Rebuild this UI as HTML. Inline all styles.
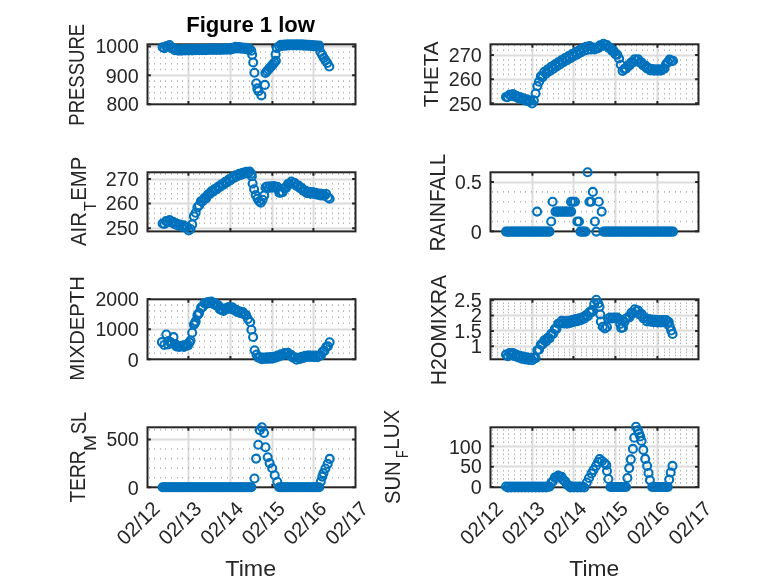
<!DOCTYPE html>
<html><head><meta charset="utf-8"><style>
html,body{margin:0;padding:0;background:#fff;overflow:hidden}
svg{display:block}
text{font-family:"Liberation Sans", sans-serif;fill:#262626}
</style></head><body>
<svg width="778" height="583" viewBox="0 0 778 583">
<rect width="778" height="583" fill="#fff"/>
<line x1="147.5" y1="75.50" x2="355.5" y2="75.50" stroke="#dcdcdc" stroke-width="2"/>
<line x1="147.5" y1="46.50" x2="355.5" y2="46.50" stroke="#dcdcdc" stroke-width="2"/>
<line x1="188.50" y1="44.3" x2="188.50" y2="104.3" stroke="#dcdcdc" stroke-width="2"/>
<line x1="230.50" y1="44.3" x2="230.50" y2="104.3" stroke="#dcdcdc" stroke-width="2"/>
<line x1="272.50" y1="44.3" x2="272.50" y2="104.3" stroke="#dcdcdc" stroke-width="2"/>
<line x1="313.50" y1="44.3" x2="313.50" y2="104.3" stroke="#dcdcdc" stroke-width="2"/>
<path d="M149 97.6h1v1.6h-1zM154 97.6h1v1.6h-1zM160 97.6h1v1.6h-1zM165 97.6h1v1.6h-1zM171 97.6h1v1.6h-1zM177 97.6h1v1.6h-1zM182 97.6h1v1.6h-1zM188 97.6h1v1.6h-1zM193 97.6h1v1.6h-1zM199 97.6h1v1.6h-1zM204 97.6h1v1.6h-1zM210 97.6h1v1.6h-1zM215 97.6h1v1.6h-1zM221 97.6h1v1.6h-1zM227 97.6h1v1.6h-1zM232 97.6h1v1.6h-1zM238 97.6h1v1.6h-1zM243 97.6h1v1.6h-1zM249 97.6h1v1.6h-1zM254 97.6h1v1.6h-1zM260 97.6h1v1.6h-1zM265 97.6h1v1.6h-1zM271 97.6h1v1.6h-1zM276 97.6h1v1.6h-1zM282 97.6h1v1.6h-1zM288 97.6h1v1.6h-1zM293 97.6h1v1.6h-1zM299 97.6h1v1.6h-1zM304 97.6h1v1.6h-1zM310 97.6h1v1.6h-1zM315 97.6h1v1.6h-1zM321 97.6h1v1.6h-1zM326 97.6h1v1.6h-1zM332 97.6h1v1.6h-1zM338 97.6h1v1.6h-1zM343 97.6h1v1.6h-1zM349 97.6h1v1.6h-1zM354 97.6h1v1.6h-1z" fill="#b4b4b4"/>
<path d="M149 91.8h1v1.6h-1zM154 91.8h1v1.6h-1zM160 91.8h1v1.6h-1zM165 91.8h1v1.6h-1zM171 91.8h1v1.6h-1zM177 91.8h1v1.6h-1zM182 91.8h1v1.6h-1zM188 91.8h1v1.6h-1zM193 91.8h1v1.6h-1zM199 91.8h1v1.6h-1zM204 91.8h1v1.6h-1zM210 91.8h1v1.6h-1zM215 91.8h1v1.6h-1zM221 91.8h1v1.6h-1zM227 91.8h1v1.6h-1zM232 91.8h1v1.6h-1zM238 91.8h1v1.6h-1zM243 91.8h1v1.6h-1zM249 91.8h1v1.6h-1zM254 91.8h1v1.6h-1zM260 91.8h1v1.6h-1zM265 91.8h1v1.6h-1zM271 91.8h1v1.6h-1zM276 91.8h1v1.6h-1zM282 91.8h1v1.6h-1zM288 91.8h1v1.6h-1zM293 91.8h1v1.6h-1zM299 91.8h1v1.6h-1zM304 91.8h1v1.6h-1zM310 91.8h1v1.6h-1zM315 91.8h1v1.6h-1zM321 91.8h1v1.6h-1zM326 91.8h1v1.6h-1zM332 91.8h1v1.6h-1zM338 91.8h1v1.6h-1zM343 91.8h1v1.6h-1zM349 91.8h1v1.6h-1zM354 91.8h1v1.6h-1z" fill="#b4b4b4"/>
<path d="M149 86.1h1v1.6h-1zM154 86.1h1v1.6h-1zM160 86.1h1v1.6h-1zM165 86.1h1v1.6h-1zM171 86.1h1v1.6h-1zM177 86.1h1v1.6h-1zM182 86.1h1v1.6h-1zM188 86.1h1v1.6h-1zM193 86.1h1v1.6h-1zM199 86.1h1v1.6h-1zM204 86.1h1v1.6h-1zM210 86.1h1v1.6h-1zM215 86.1h1v1.6h-1zM221 86.1h1v1.6h-1zM227 86.1h1v1.6h-1zM232 86.1h1v1.6h-1zM238 86.1h1v1.6h-1zM243 86.1h1v1.6h-1zM249 86.1h1v1.6h-1zM254 86.1h1v1.6h-1zM260 86.1h1v1.6h-1zM265 86.1h1v1.6h-1zM271 86.1h1v1.6h-1zM276 86.1h1v1.6h-1zM282 86.1h1v1.6h-1zM288 86.1h1v1.6h-1zM293 86.1h1v1.6h-1zM299 86.1h1v1.6h-1zM304 86.1h1v1.6h-1zM310 86.1h1v1.6h-1zM315 86.1h1v1.6h-1zM321 86.1h1v1.6h-1zM326 86.1h1v1.6h-1zM332 86.1h1v1.6h-1zM338 86.1h1v1.6h-1zM343 86.1h1v1.6h-1zM349 86.1h1v1.6h-1zM354 86.1h1v1.6h-1z" fill="#b4b4b4"/>
<path d="M149 80.3h1v1.6h-1zM154 80.3h1v1.6h-1zM160 80.3h1v1.6h-1zM165 80.3h1v1.6h-1zM171 80.3h1v1.6h-1zM177 80.3h1v1.6h-1zM182 80.3h1v1.6h-1zM188 80.3h1v1.6h-1zM193 80.3h1v1.6h-1zM199 80.3h1v1.6h-1zM204 80.3h1v1.6h-1zM210 80.3h1v1.6h-1zM215 80.3h1v1.6h-1zM221 80.3h1v1.6h-1zM227 80.3h1v1.6h-1zM232 80.3h1v1.6h-1zM238 80.3h1v1.6h-1zM243 80.3h1v1.6h-1zM249 80.3h1v1.6h-1zM254 80.3h1v1.6h-1zM260 80.3h1v1.6h-1zM265 80.3h1v1.6h-1zM271 80.3h1v1.6h-1zM276 80.3h1v1.6h-1zM282 80.3h1v1.6h-1zM288 80.3h1v1.6h-1zM293 80.3h1v1.6h-1zM299 80.3h1v1.6h-1zM304 80.3h1v1.6h-1zM310 80.3h1v1.6h-1zM315 80.3h1v1.6h-1zM321 80.3h1v1.6h-1zM326 80.3h1v1.6h-1zM332 80.3h1v1.6h-1zM338 80.3h1v1.6h-1zM343 80.3h1v1.6h-1zM349 80.3h1v1.6h-1zM354 80.3h1v1.6h-1z" fill="#b4b4b4"/>
<path d="M149 68.7h1v1.6h-1zM154 68.7h1v1.6h-1zM160 68.7h1v1.6h-1zM165 68.7h1v1.6h-1zM171 68.7h1v1.6h-1zM177 68.7h1v1.6h-1zM182 68.7h1v1.6h-1zM188 68.7h1v1.6h-1zM193 68.7h1v1.6h-1zM199 68.7h1v1.6h-1zM204 68.7h1v1.6h-1zM210 68.7h1v1.6h-1zM215 68.7h1v1.6h-1zM221 68.7h1v1.6h-1zM227 68.7h1v1.6h-1zM232 68.7h1v1.6h-1zM238 68.7h1v1.6h-1zM243 68.7h1v1.6h-1zM249 68.7h1v1.6h-1zM254 68.7h1v1.6h-1zM260 68.7h1v1.6h-1zM265 68.7h1v1.6h-1zM271 68.7h1v1.6h-1zM276 68.7h1v1.6h-1zM282 68.7h1v1.6h-1zM288 68.7h1v1.6h-1zM293 68.7h1v1.6h-1zM299 68.7h1v1.6h-1zM304 68.7h1v1.6h-1zM310 68.7h1v1.6h-1zM315 68.7h1v1.6h-1zM321 68.7h1v1.6h-1zM326 68.7h1v1.6h-1zM332 68.7h1v1.6h-1zM338 68.7h1v1.6h-1zM343 68.7h1v1.6h-1zM349 68.7h1v1.6h-1zM354 68.7h1v1.6h-1z" fill="#b4b4b4"/>
<path d="M149 62.9h1v1.6h-1zM154 62.9h1v1.6h-1zM160 62.9h1v1.6h-1zM165 62.9h1v1.6h-1zM171 62.9h1v1.6h-1zM177 62.9h1v1.6h-1zM182 62.9h1v1.6h-1zM188 62.9h1v1.6h-1zM193 62.9h1v1.6h-1zM199 62.9h1v1.6h-1zM204 62.9h1v1.6h-1zM210 62.9h1v1.6h-1zM215 62.9h1v1.6h-1zM221 62.9h1v1.6h-1zM227 62.9h1v1.6h-1zM232 62.9h1v1.6h-1zM238 62.9h1v1.6h-1zM243 62.9h1v1.6h-1zM249 62.9h1v1.6h-1zM254 62.9h1v1.6h-1zM260 62.9h1v1.6h-1zM265 62.9h1v1.6h-1zM271 62.9h1v1.6h-1zM276 62.9h1v1.6h-1zM282 62.9h1v1.6h-1zM288 62.9h1v1.6h-1zM293 62.9h1v1.6h-1zM299 62.9h1v1.6h-1zM304 62.9h1v1.6h-1zM310 62.9h1v1.6h-1zM315 62.9h1v1.6h-1zM321 62.9h1v1.6h-1zM326 62.9h1v1.6h-1zM332 62.9h1v1.6h-1zM338 62.9h1v1.6h-1zM343 62.9h1v1.6h-1zM349 62.9h1v1.6h-1zM354 62.9h1v1.6h-1z" fill="#b4b4b4"/>
<path d="M149 57.2h1v1.6h-1zM154 57.2h1v1.6h-1zM160 57.2h1v1.6h-1zM165 57.2h1v1.6h-1zM171 57.2h1v1.6h-1zM177 57.2h1v1.6h-1zM182 57.2h1v1.6h-1zM188 57.2h1v1.6h-1zM193 57.2h1v1.6h-1zM199 57.2h1v1.6h-1zM204 57.2h1v1.6h-1zM210 57.2h1v1.6h-1zM215 57.2h1v1.6h-1zM221 57.2h1v1.6h-1zM227 57.2h1v1.6h-1zM232 57.2h1v1.6h-1zM238 57.2h1v1.6h-1zM243 57.2h1v1.6h-1zM249 57.2h1v1.6h-1zM254 57.2h1v1.6h-1zM260 57.2h1v1.6h-1zM265 57.2h1v1.6h-1zM271 57.2h1v1.6h-1zM276 57.2h1v1.6h-1zM282 57.2h1v1.6h-1zM288 57.2h1v1.6h-1zM293 57.2h1v1.6h-1zM299 57.2h1v1.6h-1zM304 57.2h1v1.6h-1zM310 57.2h1v1.6h-1zM315 57.2h1v1.6h-1zM321 57.2h1v1.6h-1zM326 57.2h1v1.6h-1zM332 57.2h1v1.6h-1zM338 57.2h1v1.6h-1zM343 57.2h1v1.6h-1zM349 57.2h1v1.6h-1zM354 57.2h1v1.6h-1z" fill="#b4b4b4"/>
<path d="M149 51.4h1v1.6h-1zM154 51.4h1v1.6h-1zM160 51.4h1v1.6h-1zM165 51.4h1v1.6h-1zM171 51.4h1v1.6h-1zM177 51.4h1v1.6h-1zM182 51.4h1v1.6h-1zM188 51.4h1v1.6h-1zM193 51.4h1v1.6h-1zM199 51.4h1v1.6h-1zM204 51.4h1v1.6h-1zM210 51.4h1v1.6h-1zM215 51.4h1v1.6h-1zM221 51.4h1v1.6h-1zM227 51.4h1v1.6h-1zM232 51.4h1v1.6h-1zM238 51.4h1v1.6h-1zM243 51.4h1v1.6h-1zM249 51.4h1v1.6h-1zM254 51.4h1v1.6h-1zM260 51.4h1v1.6h-1zM265 51.4h1v1.6h-1zM271 51.4h1v1.6h-1zM276 51.4h1v1.6h-1zM282 51.4h1v1.6h-1zM288 51.4h1v1.6h-1zM293 51.4h1v1.6h-1zM299 51.4h1v1.6h-1zM304 51.4h1v1.6h-1zM310 51.4h1v1.6h-1zM315 51.4h1v1.6h-1zM321 51.4h1v1.6h-1zM326 51.4h1v1.6h-1zM332 51.4h1v1.6h-1zM338 51.4h1v1.6h-1zM343 51.4h1v1.6h-1zM349 51.4h1v1.6h-1zM354 51.4h1v1.6h-1z" fill="#b4b4b4"/>
<rect x="147.5" y="44.3" width="208.0" height="60.0" fill="none" stroke="#262626" stroke-width="2"/>
<path d="M147.5 104.20h3.4M355.5 104.20h-3.4" stroke="#262626" stroke-width="2"/>
<path d="M147.5 75.30h3.4M355.5 75.30h-3.4" stroke="#262626" stroke-width="2"/>
<path d="M147.5 46.40h3.4M355.5 46.40h-3.4" stroke="#262626" stroke-width="2"/>
<path d="M188.40 104.3v-3.4M188.40 44.3v3.4" stroke="#262626" stroke-width="2"/>
<path d="M230.40 104.3v-3.4M230.40 44.3v3.4" stroke="#262626" stroke-width="2"/>
<path d="M272.40 104.3v-3.4M272.40 44.3v3.4" stroke="#262626" stroke-width="2"/>
<path d="M313.40 104.3v-3.4M313.40 44.3v3.4" stroke="#262626" stroke-width="2"/>
<line x1="490.5" y1="79.50" x2="698.5" y2="79.50" stroke="#dcdcdc" stroke-width="2"/>
<line x1="490.5" y1="55.50" x2="698.5" y2="55.50" stroke="#dcdcdc" stroke-width="2"/>
<line x1="532.50" y1="44.3" x2="532.50" y2="104.3" stroke="#dcdcdc" stroke-width="2"/>
<line x1="573.50" y1="44.3" x2="573.50" y2="104.3" stroke="#dcdcdc" stroke-width="2"/>
<line x1="615.50" y1="44.3" x2="615.50" y2="104.3" stroke="#dcdcdc" stroke-width="2"/>
<line x1="657.50" y1="44.3" x2="657.50" y2="104.3" stroke="#dcdcdc" stroke-width="2"/>
<path d="M492 97.7h1v1.6h-1zM497 97.7h1v1.6h-1zM503 97.7h1v1.6h-1zM508 97.7h1v1.6h-1zM514 97.7h1v1.6h-1zM520 97.7h1v1.6h-1zM525 97.7h1v1.6h-1zM531 97.7h1v1.6h-1zM536 97.7h1v1.6h-1zM542 97.7h1v1.6h-1zM547 97.7h1v1.6h-1zM553 97.7h1v1.6h-1zM558 97.7h1v1.6h-1zM564 97.7h1v1.6h-1zM569 97.7h1v1.6h-1zM575 97.7h1v1.6h-1zM581 97.7h1v1.6h-1zM586 97.7h1v1.6h-1zM592 97.7h1v1.6h-1zM597 97.7h1v1.6h-1zM603 97.7h1v1.6h-1zM608 97.7h1v1.6h-1zM614 97.7h1v1.6h-1zM619 97.7h1v1.6h-1zM625 97.7h1v1.6h-1zM631 97.7h1v1.6h-1zM636 97.7h1v1.6h-1zM642 97.7h1v1.6h-1zM647 97.7h1v1.6h-1zM653 97.7h1v1.6h-1zM658 97.7h1v1.6h-1zM664 97.7h1v1.6h-1zM669 97.7h1v1.6h-1zM675 97.7h1v1.6h-1zM680 97.7h1v1.6h-1zM686 97.7h1v1.6h-1zM692 97.7h1v1.6h-1zM697 97.7h1v1.6h-1z" fill="#b4b4b4"/>
<path d="M492 92.9h1v1.6h-1zM497 92.9h1v1.6h-1zM503 92.9h1v1.6h-1zM508 92.9h1v1.6h-1zM514 92.9h1v1.6h-1zM520 92.9h1v1.6h-1zM525 92.9h1v1.6h-1zM531 92.9h1v1.6h-1zM536 92.9h1v1.6h-1zM542 92.9h1v1.6h-1zM547 92.9h1v1.6h-1zM553 92.9h1v1.6h-1zM558 92.9h1v1.6h-1zM564 92.9h1v1.6h-1zM569 92.9h1v1.6h-1zM575 92.9h1v1.6h-1zM581 92.9h1v1.6h-1zM586 92.9h1v1.6h-1zM592 92.9h1v1.6h-1zM597 92.9h1v1.6h-1zM603 92.9h1v1.6h-1zM608 92.9h1v1.6h-1zM614 92.9h1v1.6h-1zM619 92.9h1v1.6h-1zM625 92.9h1v1.6h-1zM631 92.9h1v1.6h-1zM636 92.9h1v1.6h-1zM642 92.9h1v1.6h-1zM647 92.9h1v1.6h-1zM653 92.9h1v1.6h-1zM658 92.9h1v1.6h-1zM664 92.9h1v1.6h-1zM669 92.9h1v1.6h-1zM675 92.9h1v1.6h-1zM680 92.9h1v1.6h-1zM686 92.9h1v1.6h-1zM692 92.9h1v1.6h-1zM697 92.9h1v1.6h-1z" fill="#b4b4b4"/>
<path d="M492 88.0h1v1.6h-1zM497 88.0h1v1.6h-1zM503 88.0h1v1.6h-1zM508 88.0h1v1.6h-1zM514 88.0h1v1.6h-1zM520 88.0h1v1.6h-1zM525 88.0h1v1.6h-1zM531 88.0h1v1.6h-1zM536 88.0h1v1.6h-1zM542 88.0h1v1.6h-1zM547 88.0h1v1.6h-1zM553 88.0h1v1.6h-1zM558 88.0h1v1.6h-1zM564 88.0h1v1.6h-1zM569 88.0h1v1.6h-1zM575 88.0h1v1.6h-1zM581 88.0h1v1.6h-1zM586 88.0h1v1.6h-1zM592 88.0h1v1.6h-1zM597 88.0h1v1.6h-1zM603 88.0h1v1.6h-1zM608 88.0h1v1.6h-1zM614 88.0h1v1.6h-1zM619 88.0h1v1.6h-1zM625 88.0h1v1.6h-1zM631 88.0h1v1.6h-1zM636 88.0h1v1.6h-1zM642 88.0h1v1.6h-1zM647 88.0h1v1.6h-1zM653 88.0h1v1.6h-1zM658 88.0h1v1.6h-1zM664 88.0h1v1.6h-1zM669 88.0h1v1.6h-1zM675 88.0h1v1.6h-1zM680 88.0h1v1.6h-1zM686 88.0h1v1.6h-1zM692 88.0h1v1.6h-1zM697 88.0h1v1.6h-1z" fill="#b4b4b4"/>
<path d="M492 83.2h1v1.6h-1zM497 83.2h1v1.6h-1zM503 83.2h1v1.6h-1zM508 83.2h1v1.6h-1zM514 83.2h1v1.6h-1zM520 83.2h1v1.6h-1zM525 83.2h1v1.6h-1zM531 83.2h1v1.6h-1zM536 83.2h1v1.6h-1zM542 83.2h1v1.6h-1zM547 83.2h1v1.6h-1zM553 83.2h1v1.6h-1zM558 83.2h1v1.6h-1zM564 83.2h1v1.6h-1zM569 83.2h1v1.6h-1zM575 83.2h1v1.6h-1zM581 83.2h1v1.6h-1zM586 83.2h1v1.6h-1zM592 83.2h1v1.6h-1zM597 83.2h1v1.6h-1zM603 83.2h1v1.6h-1zM608 83.2h1v1.6h-1zM614 83.2h1v1.6h-1zM619 83.2h1v1.6h-1zM625 83.2h1v1.6h-1zM631 83.2h1v1.6h-1zM636 83.2h1v1.6h-1zM642 83.2h1v1.6h-1zM647 83.2h1v1.6h-1zM653 83.2h1v1.6h-1zM658 83.2h1v1.6h-1zM664 83.2h1v1.6h-1zM669 83.2h1v1.6h-1zM675 83.2h1v1.6h-1zM680 83.2h1v1.6h-1zM686 83.2h1v1.6h-1zM692 83.2h1v1.6h-1zM697 83.2h1v1.6h-1z" fill="#b4b4b4"/>
<path d="M492 73.6h1v1.6h-1zM497 73.6h1v1.6h-1zM503 73.6h1v1.6h-1zM508 73.6h1v1.6h-1zM514 73.6h1v1.6h-1zM520 73.6h1v1.6h-1zM525 73.6h1v1.6h-1zM531 73.6h1v1.6h-1zM536 73.6h1v1.6h-1zM542 73.6h1v1.6h-1zM547 73.6h1v1.6h-1zM553 73.6h1v1.6h-1zM558 73.6h1v1.6h-1zM564 73.6h1v1.6h-1zM569 73.6h1v1.6h-1zM575 73.6h1v1.6h-1zM581 73.6h1v1.6h-1zM586 73.6h1v1.6h-1zM592 73.6h1v1.6h-1zM597 73.6h1v1.6h-1zM603 73.6h1v1.6h-1zM608 73.6h1v1.6h-1zM614 73.6h1v1.6h-1zM619 73.6h1v1.6h-1zM625 73.6h1v1.6h-1zM631 73.6h1v1.6h-1zM636 73.6h1v1.6h-1zM642 73.6h1v1.6h-1zM647 73.6h1v1.6h-1zM653 73.6h1v1.6h-1zM658 73.6h1v1.6h-1zM664 73.6h1v1.6h-1zM669 73.6h1v1.6h-1zM675 73.6h1v1.6h-1zM680 73.6h1v1.6h-1zM686 73.6h1v1.6h-1zM692 73.6h1v1.6h-1zM697 73.6h1v1.6h-1z" fill="#b4b4b4"/>
<path d="M492 68.8h1v1.6h-1zM497 68.8h1v1.6h-1zM503 68.8h1v1.6h-1zM508 68.8h1v1.6h-1zM514 68.8h1v1.6h-1zM520 68.8h1v1.6h-1zM525 68.8h1v1.6h-1zM531 68.8h1v1.6h-1zM536 68.8h1v1.6h-1zM542 68.8h1v1.6h-1zM547 68.8h1v1.6h-1zM553 68.8h1v1.6h-1zM558 68.8h1v1.6h-1zM564 68.8h1v1.6h-1zM569 68.8h1v1.6h-1zM575 68.8h1v1.6h-1zM581 68.8h1v1.6h-1zM586 68.8h1v1.6h-1zM592 68.8h1v1.6h-1zM597 68.8h1v1.6h-1zM603 68.8h1v1.6h-1zM608 68.8h1v1.6h-1zM614 68.8h1v1.6h-1zM619 68.8h1v1.6h-1zM625 68.8h1v1.6h-1zM631 68.8h1v1.6h-1zM636 68.8h1v1.6h-1zM642 68.8h1v1.6h-1zM647 68.8h1v1.6h-1zM653 68.8h1v1.6h-1zM658 68.8h1v1.6h-1zM664 68.8h1v1.6h-1zM669 68.8h1v1.6h-1zM675 68.8h1v1.6h-1zM680 68.8h1v1.6h-1zM686 68.8h1v1.6h-1zM692 68.8h1v1.6h-1zM697 68.8h1v1.6h-1z" fill="#b4b4b4"/>
<path d="M492 63.9h1v1.6h-1zM497 63.9h1v1.6h-1zM503 63.9h1v1.6h-1zM508 63.9h1v1.6h-1zM514 63.9h1v1.6h-1zM520 63.9h1v1.6h-1zM525 63.9h1v1.6h-1zM531 63.9h1v1.6h-1zM536 63.9h1v1.6h-1zM542 63.9h1v1.6h-1zM547 63.9h1v1.6h-1zM553 63.9h1v1.6h-1zM558 63.9h1v1.6h-1zM564 63.9h1v1.6h-1zM569 63.9h1v1.6h-1zM575 63.9h1v1.6h-1zM581 63.9h1v1.6h-1zM586 63.9h1v1.6h-1zM592 63.9h1v1.6h-1zM597 63.9h1v1.6h-1zM603 63.9h1v1.6h-1zM608 63.9h1v1.6h-1zM614 63.9h1v1.6h-1zM619 63.9h1v1.6h-1zM625 63.9h1v1.6h-1zM631 63.9h1v1.6h-1zM636 63.9h1v1.6h-1zM642 63.9h1v1.6h-1zM647 63.9h1v1.6h-1zM653 63.9h1v1.6h-1zM658 63.9h1v1.6h-1zM664 63.9h1v1.6h-1zM669 63.9h1v1.6h-1zM675 63.9h1v1.6h-1zM680 63.9h1v1.6h-1zM686 63.9h1v1.6h-1zM692 63.9h1v1.6h-1zM697 63.9h1v1.6h-1z" fill="#b4b4b4"/>
<path d="M492 59.1h1v1.6h-1zM497 59.1h1v1.6h-1zM503 59.1h1v1.6h-1zM508 59.1h1v1.6h-1zM514 59.1h1v1.6h-1zM520 59.1h1v1.6h-1zM525 59.1h1v1.6h-1zM531 59.1h1v1.6h-1zM536 59.1h1v1.6h-1zM542 59.1h1v1.6h-1zM547 59.1h1v1.6h-1zM553 59.1h1v1.6h-1zM558 59.1h1v1.6h-1zM564 59.1h1v1.6h-1zM569 59.1h1v1.6h-1zM575 59.1h1v1.6h-1zM581 59.1h1v1.6h-1zM586 59.1h1v1.6h-1zM592 59.1h1v1.6h-1zM597 59.1h1v1.6h-1zM603 59.1h1v1.6h-1zM608 59.1h1v1.6h-1zM614 59.1h1v1.6h-1zM619 59.1h1v1.6h-1zM625 59.1h1v1.6h-1zM631 59.1h1v1.6h-1zM636 59.1h1v1.6h-1zM642 59.1h1v1.6h-1zM647 59.1h1v1.6h-1zM653 59.1h1v1.6h-1zM658 59.1h1v1.6h-1zM664 59.1h1v1.6h-1zM669 59.1h1v1.6h-1zM675 59.1h1v1.6h-1zM680 59.1h1v1.6h-1zM686 59.1h1v1.6h-1zM692 59.1h1v1.6h-1zM697 59.1h1v1.6h-1z" fill="#b4b4b4"/>
<path d="M492 49.5h1v1.6h-1zM497 49.5h1v1.6h-1zM503 49.5h1v1.6h-1zM508 49.5h1v1.6h-1zM514 49.5h1v1.6h-1zM520 49.5h1v1.6h-1zM525 49.5h1v1.6h-1zM531 49.5h1v1.6h-1zM536 49.5h1v1.6h-1zM542 49.5h1v1.6h-1zM547 49.5h1v1.6h-1zM553 49.5h1v1.6h-1zM558 49.5h1v1.6h-1zM564 49.5h1v1.6h-1zM569 49.5h1v1.6h-1zM575 49.5h1v1.6h-1zM581 49.5h1v1.6h-1zM586 49.5h1v1.6h-1zM592 49.5h1v1.6h-1zM597 49.5h1v1.6h-1zM603 49.5h1v1.6h-1zM608 49.5h1v1.6h-1zM614 49.5h1v1.6h-1zM619 49.5h1v1.6h-1zM625 49.5h1v1.6h-1zM631 49.5h1v1.6h-1zM636 49.5h1v1.6h-1zM642 49.5h1v1.6h-1zM647 49.5h1v1.6h-1zM653 49.5h1v1.6h-1zM658 49.5h1v1.6h-1zM664 49.5h1v1.6h-1zM669 49.5h1v1.6h-1zM675 49.5h1v1.6h-1zM680 49.5h1v1.6h-1zM686 49.5h1v1.6h-1zM692 49.5h1v1.6h-1zM697 49.5h1v1.6h-1z" fill="#b4b4b4"/>
<path d="M492 44.7h1v1.6h-1zM497 44.7h1v1.6h-1zM503 44.7h1v1.6h-1zM508 44.7h1v1.6h-1zM514 44.7h1v1.6h-1zM520 44.7h1v1.6h-1zM525 44.7h1v1.6h-1zM531 44.7h1v1.6h-1zM536 44.7h1v1.6h-1zM542 44.7h1v1.6h-1zM547 44.7h1v1.6h-1zM553 44.7h1v1.6h-1zM558 44.7h1v1.6h-1zM564 44.7h1v1.6h-1zM569 44.7h1v1.6h-1zM575 44.7h1v1.6h-1zM581 44.7h1v1.6h-1zM586 44.7h1v1.6h-1zM592 44.7h1v1.6h-1zM597 44.7h1v1.6h-1zM603 44.7h1v1.6h-1zM608 44.7h1v1.6h-1zM614 44.7h1v1.6h-1zM619 44.7h1v1.6h-1zM625 44.7h1v1.6h-1zM631 44.7h1v1.6h-1zM636 44.7h1v1.6h-1zM642 44.7h1v1.6h-1zM647 44.7h1v1.6h-1zM653 44.7h1v1.6h-1zM658 44.7h1v1.6h-1zM664 44.7h1v1.6h-1zM669 44.7h1v1.6h-1zM675 44.7h1v1.6h-1zM680 44.7h1v1.6h-1zM686 44.7h1v1.6h-1zM692 44.7h1v1.6h-1zM697 44.7h1v1.6h-1z" fill="#b4b4b4"/>
<rect x="490.5" y="44.3" width="208.0" height="60.0" fill="none" stroke="#262626" stroke-width="2"/>
<path d="M490.5 103.30h3.4M698.5 103.30h-3.4" stroke="#262626" stroke-width="2"/>
<path d="M490.5 79.20h3.4M698.5 79.20h-3.4" stroke="#262626" stroke-width="2"/>
<path d="M490.5 55.10h3.4M698.5 55.10h-3.4" stroke="#262626" stroke-width="2"/>
<path d="M532.40 104.3v-3.4M532.40 44.3v3.4" stroke="#262626" stroke-width="2"/>
<path d="M573.40 104.3v-3.4M573.40 44.3v3.4" stroke="#262626" stroke-width="2"/>
<path d="M615.40 104.3v-3.4M615.40 44.3v3.4" stroke="#262626" stroke-width="2"/>
<path d="M657.40 104.3v-3.4M657.40 44.3v3.4" stroke="#262626" stroke-width="2"/>
<line x1="147.5" y1="228.50" x2="355.5" y2="228.50" stroke="#dcdcdc" stroke-width="2"/>
<line x1="147.5" y1="203.50" x2="355.5" y2="203.50" stroke="#dcdcdc" stroke-width="2"/>
<line x1="147.5" y1="179.50" x2="355.5" y2="179.50" stroke="#dcdcdc" stroke-width="2"/>
<line x1="188.50" y1="172.3" x2="188.50" y2="231.4" stroke="#dcdcdc" stroke-width="2"/>
<line x1="230.50" y1="172.3" x2="230.50" y2="231.4" stroke="#dcdcdc" stroke-width="2"/>
<line x1="272.50" y1="172.3" x2="272.50" y2="231.4" stroke="#dcdcdc" stroke-width="2"/>
<line x1="313.50" y1="172.3" x2="313.50" y2="231.4" stroke="#dcdcdc" stroke-width="2"/>
<path d="M149 222.5h1v1.6h-1zM154 222.5h1v1.6h-1zM160 222.5h1v1.6h-1zM165 222.5h1v1.6h-1zM171 222.5h1v1.6h-1zM177 222.5h1v1.6h-1zM182 222.5h1v1.6h-1zM188 222.5h1v1.6h-1zM193 222.5h1v1.6h-1zM199 222.5h1v1.6h-1zM204 222.5h1v1.6h-1zM210 222.5h1v1.6h-1zM215 222.5h1v1.6h-1zM221 222.5h1v1.6h-1zM227 222.5h1v1.6h-1zM232 222.5h1v1.6h-1zM238 222.5h1v1.6h-1zM243 222.5h1v1.6h-1zM249 222.5h1v1.6h-1zM254 222.5h1v1.6h-1zM260 222.5h1v1.6h-1zM265 222.5h1v1.6h-1zM271 222.5h1v1.6h-1zM276 222.5h1v1.6h-1zM282 222.5h1v1.6h-1zM288 222.5h1v1.6h-1zM293 222.5h1v1.6h-1zM299 222.5h1v1.6h-1zM304 222.5h1v1.6h-1zM310 222.5h1v1.6h-1zM315 222.5h1v1.6h-1zM321 222.5h1v1.6h-1zM326 222.5h1v1.6h-1zM332 222.5h1v1.6h-1zM338 222.5h1v1.6h-1zM343 222.5h1v1.6h-1zM349 222.5h1v1.6h-1zM354 222.5h1v1.6h-1z" fill="#b4b4b4"/>
<path d="M149 217.6h1v1.6h-1zM154 217.6h1v1.6h-1zM160 217.6h1v1.6h-1zM165 217.6h1v1.6h-1zM171 217.6h1v1.6h-1zM177 217.6h1v1.6h-1zM182 217.6h1v1.6h-1zM188 217.6h1v1.6h-1zM193 217.6h1v1.6h-1zM199 217.6h1v1.6h-1zM204 217.6h1v1.6h-1zM210 217.6h1v1.6h-1zM215 217.6h1v1.6h-1zM221 217.6h1v1.6h-1zM227 217.6h1v1.6h-1zM232 217.6h1v1.6h-1zM238 217.6h1v1.6h-1zM243 217.6h1v1.6h-1zM249 217.6h1v1.6h-1zM254 217.6h1v1.6h-1zM260 217.6h1v1.6h-1zM265 217.6h1v1.6h-1zM271 217.6h1v1.6h-1zM276 217.6h1v1.6h-1zM282 217.6h1v1.6h-1zM288 217.6h1v1.6h-1zM293 217.6h1v1.6h-1zM299 217.6h1v1.6h-1zM304 217.6h1v1.6h-1zM310 217.6h1v1.6h-1zM315 217.6h1v1.6h-1zM321 217.6h1v1.6h-1zM326 217.6h1v1.6h-1zM332 217.6h1v1.6h-1zM338 217.6h1v1.6h-1zM343 217.6h1v1.6h-1zM349 217.6h1v1.6h-1zM354 217.6h1v1.6h-1z" fill="#b4b4b4"/>
<path d="M149 212.6h1v1.6h-1zM154 212.6h1v1.6h-1zM160 212.6h1v1.6h-1zM165 212.6h1v1.6h-1zM171 212.6h1v1.6h-1zM177 212.6h1v1.6h-1zM182 212.6h1v1.6h-1zM188 212.6h1v1.6h-1zM193 212.6h1v1.6h-1zM199 212.6h1v1.6h-1zM204 212.6h1v1.6h-1zM210 212.6h1v1.6h-1zM215 212.6h1v1.6h-1zM221 212.6h1v1.6h-1zM227 212.6h1v1.6h-1zM232 212.6h1v1.6h-1zM238 212.6h1v1.6h-1zM243 212.6h1v1.6h-1zM249 212.6h1v1.6h-1zM254 212.6h1v1.6h-1zM260 212.6h1v1.6h-1zM265 212.6h1v1.6h-1zM271 212.6h1v1.6h-1zM276 212.6h1v1.6h-1zM282 212.6h1v1.6h-1zM288 212.6h1v1.6h-1zM293 212.6h1v1.6h-1zM299 212.6h1v1.6h-1zM304 212.6h1v1.6h-1zM310 212.6h1v1.6h-1zM315 212.6h1v1.6h-1zM321 212.6h1v1.6h-1zM326 212.6h1v1.6h-1zM332 212.6h1v1.6h-1zM338 212.6h1v1.6h-1zM343 212.6h1v1.6h-1zM349 212.6h1v1.6h-1zM354 212.6h1v1.6h-1z" fill="#b4b4b4"/>
<path d="M149 207.7h1v1.6h-1zM154 207.7h1v1.6h-1zM160 207.7h1v1.6h-1zM165 207.7h1v1.6h-1zM171 207.7h1v1.6h-1zM177 207.7h1v1.6h-1zM182 207.7h1v1.6h-1zM188 207.7h1v1.6h-1zM193 207.7h1v1.6h-1zM199 207.7h1v1.6h-1zM204 207.7h1v1.6h-1zM210 207.7h1v1.6h-1zM215 207.7h1v1.6h-1zM221 207.7h1v1.6h-1zM227 207.7h1v1.6h-1zM232 207.7h1v1.6h-1zM238 207.7h1v1.6h-1zM243 207.7h1v1.6h-1zM249 207.7h1v1.6h-1zM254 207.7h1v1.6h-1zM260 207.7h1v1.6h-1zM265 207.7h1v1.6h-1zM271 207.7h1v1.6h-1zM276 207.7h1v1.6h-1zM282 207.7h1v1.6h-1zM288 207.7h1v1.6h-1zM293 207.7h1v1.6h-1zM299 207.7h1v1.6h-1zM304 207.7h1v1.6h-1zM310 207.7h1v1.6h-1zM315 207.7h1v1.6h-1zM321 207.7h1v1.6h-1zM326 207.7h1v1.6h-1zM332 207.7h1v1.6h-1zM338 207.7h1v1.6h-1zM343 207.7h1v1.6h-1zM349 207.7h1v1.6h-1zM354 207.7h1v1.6h-1z" fill="#b4b4b4"/>
<path d="M149 197.9h1v1.6h-1zM154 197.9h1v1.6h-1zM160 197.9h1v1.6h-1zM165 197.9h1v1.6h-1zM171 197.9h1v1.6h-1zM177 197.9h1v1.6h-1zM182 197.9h1v1.6h-1zM188 197.9h1v1.6h-1zM193 197.9h1v1.6h-1zM199 197.9h1v1.6h-1zM204 197.9h1v1.6h-1zM210 197.9h1v1.6h-1zM215 197.9h1v1.6h-1zM221 197.9h1v1.6h-1zM227 197.9h1v1.6h-1zM232 197.9h1v1.6h-1zM238 197.9h1v1.6h-1zM243 197.9h1v1.6h-1zM249 197.9h1v1.6h-1zM254 197.9h1v1.6h-1zM260 197.9h1v1.6h-1zM265 197.9h1v1.6h-1zM271 197.9h1v1.6h-1zM276 197.9h1v1.6h-1zM282 197.9h1v1.6h-1zM288 197.9h1v1.6h-1zM293 197.9h1v1.6h-1zM299 197.9h1v1.6h-1zM304 197.9h1v1.6h-1zM310 197.9h1v1.6h-1zM315 197.9h1v1.6h-1zM321 197.9h1v1.6h-1zM326 197.9h1v1.6h-1zM332 197.9h1v1.6h-1zM338 197.9h1v1.6h-1zM343 197.9h1v1.6h-1zM349 197.9h1v1.6h-1zM354 197.9h1v1.6h-1z" fill="#b4b4b4"/>
<path d="M149 193.0h1v1.6h-1zM154 193.0h1v1.6h-1zM160 193.0h1v1.6h-1zM165 193.0h1v1.6h-1zM171 193.0h1v1.6h-1zM177 193.0h1v1.6h-1zM182 193.0h1v1.6h-1zM188 193.0h1v1.6h-1zM193 193.0h1v1.6h-1zM199 193.0h1v1.6h-1zM204 193.0h1v1.6h-1zM210 193.0h1v1.6h-1zM215 193.0h1v1.6h-1zM221 193.0h1v1.6h-1zM227 193.0h1v1.6h-1zM232 193.0h1v1.6h-1zM238 193.0h1v1.6h-1zM243 193.0h1v1.6h-1zM249 193.0h1v1.6h-1zM254 193.0h1v1.6h-1zM260 193.0h1v1.6h-1zM265 193.0h1v1.6h-1zM271 193.0h1v1.6h-1zM276 193.0h1v1.6h-1zM282 193.0h1v1.6h-1zM288 193.0h1v1.6h-1zM293 193.0h1v1.6h-1zM299 193.0h1v1.6h-1zM304 193.0h1v1.6h-1zM310 193.0h1v1.6h-1zM315 193.0h1v1.6h-1zM321 193.0h1v1.6h-1zM326 193.0h1v1.6h-1zM332 193.0h1v1.6h-1zM338 193.0h1v1.6h-1zM343 193.0h1v1.6h-1zM349 193.0h1v1.6h-1zM354 193.0h1v1.6h-1z" fill="#b4b4b4"/>
<path d="M149 188.0h1v1.6h-1zM154 188.0h1v1.6h-1zM160 188.0h1v1.6h-1zM165 188.0h1v1.6h-1zM171 188.0h1v1.6h-1zM177 188.0h1v1.6h-1zM182 188.0h1v1.6h-1zM188 188.0h1v1.6h-1zM193 188.0h1v1.6h-1zM199 188.0h1v1.6h-1zM204 188.0h1v1.6h-1zM210 188.0h1v1.6h-1zM215 188.0h1v1.6h-1zM221 188.0h1v1.6h-1zM227 188.0h1v1.6h-1zM232 188.0h1v1.6h-1zM238 188.0h1v1.6h-1zM243 188.0h1v1.6h-1zM249 188.0h1v1.6h-1zM254 188.0h1v1.6h-1zM260 188.0h1v1.6h-1zM265 188.0h1v1.6h-1zM271 188.0h1v1.6h-1zM276 188.0h1v1.6h-1zM282 188.0h1v1.6h-1zM288 188.0h1v1.6h-1zM293 188.0h1v1.6h-1zM299 188.0h1v1.6h-1zM304 188.0h1v1.6h-1zM310 188.0h1v1.6h-1zM315 188.0h1v1.6h-1zM321 188.0h1v1.6h-1zM326 188.0h1v1.6h-1zM332 188.0h1v1.6h-1zM338 188.0h1v1.6h-1zM343 188.0h1v1.6h-1zM349 188.0h1v1.6h-1zM354 188.0h1v1.6h-1z" fill="#b4b4b4"/>
<path d="M149 183.1h1v1.6h-1zM154 183.1h1v1.6h-1zM160 183.1h1v1.6h-1zM165 183.1h1v1.6h-1zM171 183.1h1v1.6h-1zM177 183.1h1v1.6h-1zM182 183.1h1v1.6h-1zM188 183.1h1v1.6h-1zM193 183.1h1v1.6h-1zM199 183.1h1v1.6h-1zM204 183.1h1v1.6h-1zM210 183.1h1v1.6h-1zM215 183.1h1v1.6h-1zM221 183.1h1v1.6h-1zM227 183.1h1v1.6h-1zM232 183.1h1v1.6h-1zM238 183.1h1v1.6h-1zM243 183.1h1v1.6h-1zM249 183.1h1v1.6h-1zM254 183.1h1v1.6h-1zM260 183.1h1v1.6h-1zM265 183.1h1v1.6h-1zM271 183.1h1v1.6h-1zM276 183.1h1v1.6h-1zM282 183.1h1v1.6h-1zM288 183.1h1v1.6h-1zM293 183.1h1v1.6h-1zM299 183.1h1v1.6h-1zM304 183.1h1v1.6h-1zM310 183.1h1v1.6h-1zM315 183.1h1v1.6h-1zM321 183.1h1v1.6h-1zM326 183.1h1v1.6h-1zM332 183.1h1v1.6h-1zM338 183.1h1v1.6h-1zM343 183.1h1v1.6h-1zM349 183.1h1v1.6h-1zM354 183.1h1v1.6h-1z" fill="#b4b4b4"/>
<path d="M149 173.3h1v1.6h-1zM154 173.3h1v1.6h-1zM160 173.3h1v1.6h-1zM165 173.3h1v1.6h-1zM171 173.3h1v1.6h-1zM177 173.3h1v1.6h-1zM182 173.3h1v1.6h-1zM188 173.3h1v1.6h-1zM193 173.3h1v1.6h-1zM199 173.3h1v1.6h-1zM204 173.3h1v1.6h-1zM210 173.3h1v1.6h-1zM215 173.3h1v1.6h-1zM221 173.3h1v1.6h-1zM227 173.3h1v1.6h-1zM232 173.3h1v1.6h-1zM238 173.3h1v1.6h-1zM243 173.3h1v1.6h-1zM249 173.3h1v1.6h-1zM254 173.3h1v1.6h-1zM260 173.3h1v1.6h-1zM265 173.3h1v1.6h-1zM271 173.3h1v1.6h-1zM276 173.3h1v1.6h-1zM282 173.3h1v1.6h-1zM288 173.3h1v1.6h-1zM293 173.3h1v1.6h-1zM299 173.3h1v1.6h-1zM304 173.3h1v1.6h-1zM310 173.3h1v1.6h-1zM315 173.3h1v1.6h-1zM321 173.3h1v1.6h-1zM326 173.3h1v1.6h-1zM332 173.3h1v1.6h-1zM338 173.3h1v1.6h-1zM343 173.3h1v1.6h-1zM349 173.3h1v1.6h-1zM354 173.3h1v1.6h-1z" fill="#b4b4b4"/>
<rect x="147.5" y="172.3" width="208.0" height="59.099999999999994" fill="none" stroke="#262626" stroke-width="2"/>
<path d="M147.5 228.20h3.4M355.5 228.20h-3.4" stroke="#262626" stroke-width="2"/>
<path d="M147.5 203.60h3.4M355.5 203.60h-3.4" stroke="#262626" stroke-width="2"/>
<path d="M147.5 179.00h3.4M355.5 179.00h-3.4" stroke="#262626" stroke-width="2"/>
<path d="M188.40 231.4v-3.4M188.40 172.3v3.4" stroke="#262626" stroke-width="2"/>
<path d="M230.40 231.4v-3.4M230.40 172.3v3.4" stroke="#262626" stroke-width="2"/>
<path d="M272.40 231.4v-3.4M272.40 172.3v3.4" stroke="#262626" stroke-width="2"/>
<path d="M313.40 231.4v-3.4M313.40 172.3v3.4" stroke="#262626" stroke-width="2"/>
<line x1="490.5" y1="182.50" x2="698.5" y2="182.50" stroke="#dcdcdc" stroke-width="2"/>
<line x1="532.50" y1="172.3" x2="532.50" y2="231.4" stroke="#dcdcdc" stroke-width="2"/>
<line x1="573.50" y1="172.3" x2="573.50" y2="231.4" stroke="#dcdcdc" stroke-width="2"/>
<line x1="615.50" y1="172.3" x2="615.50" y2="231.4" stroke="#dcdcdc" stroke-width="2"/>
<line x1="657.50" y1="172.3" x2="657.50" y2="231.4" stroke="#dcdcdc" stroke-width="2"/>
<path d="M492 220.7h1v1.6h-1zM497 220.7h1v1.6h-1zM503 220.7h1v1.6h-1zM508 220.7h1v1.6h-1zM514 220.7h1v1.6h-1zM520 220.7h1v1.6h-1zM525 220.7h1v1.6h-1zM531 220.7h1v1.6h-1zM536 220.7h1v1.6h-1zM542 220.7h1v1.6h-1zM547 220.7h1v1.6h-1zM553 220.7h1v1.6h-1zM558 220.7h1v1.6h-1zM564 220.7h1v1.6h-1zM569 220.7h1v1.6h-1zM575 220.7h1v1.6h-1zM581 220.7h1v1.6h-1zM586 220.7h1v1.6h-1zM592 220.7h1v1.6h-1zM597 220.7h1v1.6h-1zM603 220.7h1v1.6h-1zM608 220.7h1v1.6h-1zM614 220.7h1v1.6h-1zM619 220.7h1v1.6h-1zM625 220.7h1v1.6h-1zM631 220.7h1v1.6h-1zM636 220.7h1v1.6h-1zM642 220.7h1v1.6h-1zM647 220.7h1v1.6h-1zM653 220.7h1v1.6h-1zM658 220.7h1v1.6h-1zM664 220.7h1v1.6h-1zM669 220.7h1v1.6h-1zM675 220.7h1v1.6h-1zM680 220.7h1v1.6h-1zM686 220.7h1v1.6h-1zM692 220.7h1v1.6h-1zM697 220.7h1v1.6h-1z" fill="#b4b4b4"/>
<path d="M492 210.8h1v1.6h-1zM497 210.8h1v1.6h-1zM503 210.8h1v1.6h-1zM508 210.8h1v1.6h-1zM514 210.8h1v1.6h-1zM520 210.8h1v1.6h-1zM525 210.8h1v1.6h-1zM531 210.8h1v1.6h-1zM536 210.8h1v1.6h-1zM542 210.8h1v1.6h-1zM547 210.8h1v1.6h-1zM553 210.8h1v1.6h-1zM558 210.8h1v1.6h-1zM564 210.8h1v1.6h-1zM569 210.8h1v1.6h-1zM575 210.8h1v1.6h-1zM581 210.8h1v1.6h-1zM586 210.8h1v1.6h-1zM592 210.8h1v1.6h-1zM597 210.8h1v1.6h-1zM603 210.8h1v1.6h-1zM608 210.8h1v1.6h-1zM614 210.8h1v1.6h-1zM619 210.8h1v1.6h-1zM625 210.8h1v1.6h-1zM631 210.8h1v1.6h-1zM636 210.8h1v1.6h-1zM642 210.8h1v1.6h-1zM647 210.8h1v1.6h-1zM653 210.8h1v1.6h-1zM658 210.8h1v1.6h-1zM664 210.8h1v1.6h-1zM669 210.8h1v1.6h-1zM675 210.8h1v1.6h-1zM680 210.8h1v1.6h-1zM686 210.8h1v1.6h-1zM692 210.8h1v1.6h-1zM697 210.8h1v1.6h-1z" fill="#b4b4b4"/>
<path d="M492 201.0h1v1.6h-1zM497 201.0h1v1.6h-1zM503 201.0h1v1.6h-1zM508 201.0h1v1.6h-1zM514 201.0h1v1.6h-1zM520 201.0h1v1.6h-1zM525 201.0h1v1.6h-1zM531 201.0h1v1.6h-1zM536 201.0h1v1.6h-1zM542 201.0h1v1.6h-1zM547 201.0h1v1.6h-1zM553 201.0h1v1.6h-1zM558 201.0h1v1.6h-1zM564 201.0h1v1.6h-1zM569 201.0h1v1.6h-1zM575 201.0h1v1.6h-1zM581 201.0h1v1.6h-1zM586 201.0h1v1.6h-1zM592 201.0h1v1.6h-1zM597 201.0h1v1.6h-1zM603 201.0h1v1.6h-1zM608 201.0h1v1.6h-1zM614 201.0h1v1.6h-1zM619 201.0h1v1.6h-1zM625 201.0h1v1.6h-1zM631 201.0h1v1.6h-1zM636 201.0h1v1.6h-1zM642 201.0h1v1.6h-1zM647 201.0h1v1.6h-1zM653 201.0h1v1.6h-1zM658 201.0h1v1.6h-1zM664 201.0h1v1.6h-1zM669 201.0h1v1.6h-1zM675 201.0h1v1.6h-1zM680 201.0h1v1.6h-1zM686 201.0h1v1.6h-1zM692 201.0h1v1.6h-1zM697 201.0h1v1.6h-1z" fill="#b4b4b4"/>
<path d="M492 191.1h1v1.6h-1zM497 191.1h1v1.6h-1zM503 191.1h1v1.6h-1zM508 191.1h1v1.6h-1zM514 191.1h1v1.6h-1zM520 191.1h1v1.6h-1zM525 191.1h1v1.6h-1zM531 191.1h1v1.6h-1zM536 191.1h1v1.6h-1zM542 191.1h1v1.6h-1zM547 191.1h1v1.6h-1zM553 191.1h1v1.6h-1zM558 191.1h1v1.6h-1zM564 191.1h1v1.6h-1zM569 191.1h1v1.6h-1zM575 191.1h1v1.6h-1zM581 191.1h1v1.6h-1zM586 191.1h1v1.6h-1zM592 191.1h1v1.6h-1zM597 191.1h1v1.6h-1zM603 191.1h1v1.6h-1zM608 191.1h1v1.6h-1zM614 191.1h1v1.6h-1zM619 191.1h1v1.6h-1zM625 191.1h1v1.6h-1zM631 191.1h1v1.6h-1zM636 191.1h1v1.6h-1zM642 191.1h1v1.6h-1zM647 191.1h1v1.6h-1zM653 191.1h1v1.6h-1zM658 191.1h1v1.6h-1zM664 191.1h1v1.6h-1zM669 191.1h1v1.6h-1zM675 191.1h1v1.6h-1zM680 191.1h1v1.6h-1zM686 191.1h1v1.6h-1zM692 191.1h1v1.6h-1zM697 191.1h1v1.6h-1z" fill="#b4b4b4"/>
<rect x="490.5" y="172.3" width="208.0" height="59.099999999999994" fill="none" stroke="#262626" stroke-width="2"/>
<path d="M490.5 231.30h3.4M698.5 231.30h-3.4" stroke="#262626" stroke-width="2"/>
<path d="M490.5 182.10h3.4M698.5 182.10h-3.4" stroke="#262626" stroke-width="2"/>
<path d="M532.40 231.4v-3.4M532.40 172.3v3.4" stroke="#262626" stroke-width="2"/>
<path d="M573.40 231.4v-3.4M573.40 172.3v3.4" stroke="#262626" stroke-width="2"/>
<path d="M615.40 231.4v-3.4M615.40 172.3v3.4" stroke="#262626" stroke-width="2"/>
<path d="M657.40 231.4v-3.4M657.40 172.3v3.4" stroke="#262626" stroke-width="2"/>
<line x1="147.5" y1="329.50" x2="355.5" y2="329.50" stroke="#dcdcdc" stroke-width="2"/>
<line x1="188.50" y1="299.3" x2="188.50" y2="359.3" stroke="#dcdcdc" stroke-width="2"/>
<line x1="230.50" y1="299.3" x2="230.50" y2="359.3" stroke="#dcdcdc" stroke-width="2"/>
<line x1="272.50" y1="299.3" x2="272.50" y2="359.3" stroke="#dcdcdc" stroke-width="2"/>
<line x1="313.50" y1="299.3" x2="313.50" y2="359.3" stroke="#dcdcdc" stroke-width="2"/>
<path d="M149 352.5h1v1.6h-1zM154 352.5h1v1.6h-1zM160 352.5h1v1.6h-1zM165 352.5h1v1.6h-1zM171 352.5h1v1.6h-1zM177 352.5h1v1.6h-1zM182 352.5h1v1.6h-1zM188 352.5h1v1.6h-1zM193 352.5h1v1.6h-1zM199 352.5h1v1.6h-1zM204 352.5h1v1.6h-1zM210 352.5h1v1.6h-1zM215 352.5h1v1.6h-1zM221 352.5h1v1.6h-1zM227 352.5h1v1.6h-1zM232 352.5h1v1.6h-1zM238 352.5h1v1.6h-1zM243 352.5h1v1.6h-1zM249 352.5h1v1.6h-1zM254 352.5h1v1.6h-1zM260 352.5h1v1.6h-1zM265 352.5h1v1.6h-1zM271 352.5h1v1.6h-1zM276 352.5h1v1.6h-1zM282 352.5h1v1.6h-1zM288 352.5h1v1.6h-1zM293 352.5h1v1.6h-1zM299 352.5h1v1.6h-1zM304 352.5h1v1.6h-1zM310 352.5h1v1.6h-1zM315 352.5h1v1.6h-1zM321 352.5h1v1.6h-1zM326 352.5h1v1.6h-1zM332 352.5h1v1.6h-1zM338 352.5h1v1.6h-1zM343 352.5h1v1.6h-1zM349 352.5h1v1.6h-1zM354 352.5h1v1.6h-1z" fill="#b4b4b4"/>
<path d="M149 346.5h1v1.6h-1zM154 346.5h1v1.6h-1zM160 346.5h1v1.6h-1zM165 346.5h1v1.6h-1zM171 346.5h1v1.6h-1zM177 346.5h1v1.6h-1zM182 346.5h1v1.6h-1zM188 346.5h1v1.6h-1zM193 346.5h1v1.6h-1zM199 346.5h1v1.6h-1zM204 346.5h1v1.6h-1zM210 346.5h1v1.6h-1zM215 346.5h1v1.6h-1zM221 346.5h1v1.6h-1zM227 346.5h1v1.6h-1zM232 346.5h1v1.6h-1zM238 346.5h1v1.6h-1zM243 346.5h1v1.6h-1zM249 346.5h1v1.6h-1zM254 346.5h1v1.6h-1zM260 346.5h1v1.6h-1zM265 346.5h1v1.6h-1zM271 346.5h1v1.6h-1zM276 346.5h1v1.6h-1zM282 346.5h1v1.6h-1zM288 346.5h1v1.6h-1zM293 346.5h1v1.6h-1zM299 346.5h1v1.6h-1zM304 346.5h1v1.6h-1zM310 346.5h1v1.6h-1zM315 346.5h1v1.6h-1zM321 346.5h1v1.6h-1zM326 346.5h1v1.6h-1zM332 346.5h1v1.6h-1zM338 346.5h1v1.6h-1zM343 346.5h1v1.6h-1zM349 346.5h1v1.6h-1zM354 346.5h1v1.6h-1z" fill="#b4b4b4"/>
<path d="M149 340.4h1v1.6h-1zM154 340.4h1v1.6h-1zM160 340.4h1v1.6h-1zM165 340.4h1v1.6h-1zM171 340.4h1v1.6h-1zM177 340.4h1v1.6h-1zM182 340.4h1v1.6h-1zM188 340.4h1v1.6h-1zM193 340.4h1v1.6h-1zM199 340.4h1v1.6h-1zM204 340.4h1v1.6h-1zM210 340.4h1v1.6h-1zM215 340.4h1v1.6h-1zM221 340.4h1v1.6h-1zM227 340.4h1v1.6h-1zM232 340.4h1v1.6h-1zM238 340.4h1v1.6h-1zM243 340.4h1v1.6h-1zM249 340.4h1v1.6h-1zM254 340.4h1v1.6h-1zM260 340.4h1v1.6h-1zM265 340.4h1v1.6h-1zM271 340.4h1v1.6h-1zM276 340.4h1v1.6h-1zM282 340.4h1v1.6h-1zM288 340.4h1v1.6h-1zM293 340.4h1v1.6h-1zM299 340.4h1v1.6h-1zM304 340.4h1v1.6h-1zM310 340.4h1v1.6h-1zM315 340.4h1v1.6h-1zM321 340.4h1v1.6h-1zM326 340.4h1v1.6h-1zM332 340.4h1v1.6h-1zM338 340.4h1v1.6h-1zM343 340.4h1v1.6h-1zM349 340.4h1v1.6h-1zM354 340.4h1v1.6h-1z" fill="#b4b4b4"/>
<path d="M149 334.4h1v1.6h-1zM154 334.4h1v1.6h-1zM160 334.4h1v1.6h-1zM165 334.4h1v1.6h-1zM171 334.4h1v1.6h-1zM177 334.4h1v1.6h-1zM182 334.4h1v1.6h-1zM188 334.4h1v1.6h-1zM193 334.4h1v1.6h-1zM199 334.4h1v1.6h-1zM204 334.4h1v1.6h-1zM210 334.4h1v1.6h-1zM215 334.4h1v1.6h-1zM221 334.4h1v1.6h-1zM227 334.4h1v1.6h-1zM232 334.4h1v1.6h-1zM238 334.4h1v1.6h-1zM243 334.4h1v1.6h-1zM249 334.4h1v1.6h-1zM254 334.4h1v1.6h-1zM260 334.4h1v1.6h-1zM265 334.4h1v1.6h-1zM271 334.4h1v1.6h-1zM276 334.4h1v1.6h-1zM282 334.4h1v1.6h-1zM288 334.4h1v1.6h-1zM293 334.4h1v1.6h-1zM299 334.4h1v1.6h-1zM304 334.4h1v1.6h-1zM310 334.4h1v1.6h-1zM315 334.4h1v1.6h-1zM321 334.4h1v1.6h-1zM326 334.4h1v1.6h-1zM332 334.4h1v1.6h-1zM338 334.4h1v1.6h-1zM343 334.4h1v1.6h-1zM349 334.4h1v1.6h-1zM354 334.4h1v1.6h-1z" fill="#b4b4b4"/>
<path d="M149 322.4h1v1.6h-1zM154 322.4h1v1.6h-1zM160 322.4h1v1.6h-1zM165 322.4h1v1.6h-1zM171 322.4h1v1.6h-1zM177 322.4h1v1.6h-1zM182 322.4h1v1.6h-1zM188 322.4h1v1.6h-1zM193 322.4h1v1.6h-1zM199 322.4h1v1.6h-1zM204 322.4h1v1.6h-1zM210 322.4h1v1.6h-1zM215 322.4h1v1.6h-1zM221 322.4h1v1.6h-1zM227 322.4h1v1.6h-1zM232 322.4h1v1.6h-1zM238 322.4h1v1.6h-1zM243 322.4h1v1.6h-1zM249 322.4h1v1.6h-1zM254 322.4h1v1.6h-1zM260 322.4h1v1.6h-1zM265 322.4h1v1.6h-1zM271 322.4h1v1.6h-1zM276 322.4h1v1.6h-1zM282 322.4h1v1.6h-1zM288 322.4h1v1.6h-1zM293 322.4h1v1.6h-1zM299 322.4h1v1.6h-1zM304 322.4h1v1.6h-1zM310 322.4h1v1.6h-1zM315 322.4h1v1.6h-1zM321 322.4h1v1.6h-1zM326 322.4h1v1.6h-1zM332 322.4h1v1.6h-1zM338 322.4h1v1.6h-1zM343 322.4h1v1.6h-1zM349 322.4h1v1.6h-1zM354 322.4h1v1.6h-1z" fill="#b4b4b4"/>
<path d="M149 316.4h1v1.6h-1zM154 316.4h1v1.6h-1zM160 316.4h1v1.6h-1zM165 316.4h1v1.6h-1zM171 316.4h1v1.6h-1zM177 316.4h1v1.6h-1zM182 316.4h1v1.6h-1zM188 316.4h1v1.6h-1zM193 316.4h1v1.6h-1zM199 316.4h1v1.6h-1zM204 316.4h1v1.6h-1zM210 316.4h1v1.6h-1zM215 316.4h1v1.6h-1zM221 316.4h1v1.6h-1zM227 316.4h1v1.6h-1zM232 316.4h1v1.6h-1zM238 316.4h1v1.6h-1zM243 316.4h1v1.6h-1zM249 316.4h1v1.6h-1zM254 316.4h1v1.6h-1zM260 316.4h1v1.6h-1zM265 316.4h1v1.6h-1zM271 316.4h1v1.6h-1zM276 316.4h1v1.6h-1zM282 316.4h1v1.6h-1zM288 316.4h1v1.6h-1zM293 316.4h1v1.6h-1zM299 316.4h1v1.6h-1zM304 316.4h1v1.6h-1zM310 316.4h1v1.6h-1zM315 316.4h1v1.6h-1zM321 316.4h1v1.6h-1zM326 316.4h1v1.6h-1zM332 316.4h1v1.6h-1zM338 316.4h1v1.6h-1zM343 316.4h1v1.6h-1zM349 316.4h1v1.6h-1zM354 316.4h1v1.6h-1z" fill="#b4b4b4"/>
<path d="M149 310.3h1v1.6h-1zM154 310.3h1v1.6h-1zM160 310.3h1v1.6h-1zM165 310.3h1v1.6h-1zM171 310.3h1v1.6h-1zM177 310.3h1v1.6h-1zM182 310.3h1v1.6h-1zM188 310.3h1v1.6h-1zM193 310.3h1v1.6h-1zM199 310.3h1v1.6h-1zM204 310.3h1v1.6h-1zM210 310.3h1v1.6h-1zM215 310.3h1v1.6h-1zM221 310.3h1v1.6h-1zM227 310.3h1v1.6h-1zM232 310.3h1v1.6h-1zM238 310.3h1v1.6h-1zM243 310.3h1v1.6h-1zM249 310.3h1v1.6h-1zM254 310.3h1v1.6h-1zM260 310.3h1v1.6h-1zM265 310.3h1v1.6h-1zM271 310.3h1v1.6h-1zM276 310.3h1v1.6h-1zM282 310.3h1v1.6h-1zM288 310.3h1v1.6h-1zM293 310.3h1v1.6h-1zM299 310.3h1v1.6h-1zM304 310.3h1v1.6h-1zM310 310.3h1v1.6h-1zM315 310.3h1v1.6h-1zM321 310.3h1v1.6h-1zM326 310.3h1v1.6h-1zM332 310.3h1v1.6h-1zM338 310.3h1v1.6h-1zM343 310.3h1v1.6h-1zM349 310.3h1v1.6h-1zM354 310.3h1v1.6h-1z" fill="#b4b4b4"/>
<path d="M149 304.3h1v1.6h-1zM154 304.3h1v1.6h-1zM160 304.3h1v1.6h-1zM165 304.3h1v1.6h-1zM171 304.3h1v1.6h-1zM177 304.3h1v1.6h-1zM182 304.3h1v1.6h-1zM188 304.3h1v1.6h-1zM193 304.3h1v1.6h-1zM199 304.3h1v1.6h-1zM204 304.3h1v1.6h-1zM210 304.3h1v1.6h-1zM215 304.3h1v1.6h-1zM221 304.3h1v1.6h-1zM227 304.3h1v1.6h-1zM232 304.3h1v1.6h-1zM238 304.3h1v1.6h-1zM243 304.3h1v1.6h-1zM249 304.3h1v1.6h-1zM254 304.3h1v1.6h-1zM260 304.3h1v1.6h-1zM265 304.3h1v1.6h-1zM271 304.3h1v1.6h-1zM276 304.3h1v1.6h-1zM282 304.3h1v1.6h-1zM288 304.3h1v1.6h-1zM293 304.3h1v1.6h-1zM299 304.3h1v1.6h-1zM304 304.3h1v1.6h-1zM310 304.3h1v1.6h-1zM315 304.3h1v1.6h-1zM321 304.3h1v1.6h-1zM326 304.3h1v1.6h-1zM332 304.3h1v1.6h-1zM338 304.3h1v1.6h-1zM343 304.3h1v1.6h-1zM349 304.3h1v1.6h-1zM354 304.3h1v1.6h-1z" fill="#b4b4b4"/>
<rect x="147.5" y="299.3" width="208.0" height="60.0" fill="none" stroke="#262626" stroke-width="2"/>
<path d="M147.5 359.30h3.4M355.5 359.30h-3.4" stroke="#262626" stroke-width="2"/>
<path d="M147.5 329.20h3.4M355.5 329.20h-3.4" stroke="#262626" stroke-width="2"/>
<path d="M147.5 299.10h3.4M355.5 299.10h-3.4" stroke="#262626" stroke-width="2"/>
<path d="M188.40 359.3v-3.4M188.40 299.3v3.4" stroke="#262626" stroke-width="2"/>
<path d="M230.40 359.3v-3.4M230.40 299.3v3.4" stroke="#262626" stroke-width="2"/>
<path d="M272.40 359.3v-3.4M272.40 299.3v3.4" stroke="#262626" stroke-width="2"/>
<path d="M313.40 359.3v-3.4M313.40 299.3v3.4" stroke="#262626" stroke-width="2"/>
<line x1="490.5" y1="346.50" x2="698.5" y2="346.50" stroke="#dcdcdc" stroke-width="2"/>
<line x1="490.5" y1="330.50" x2="698.5" y2="330.50" stroke="#dcdcdc" stroke-width="2"/>
<line x1="490.5" y1="315.50" x2="698.5" y2="315.50" stroke="#dcdcdc" stroke-width="2"/>
<line x1="532.50" y1="299.3" x2="532.50" y2="359.3" stroke="#dcdcdc" stroke-width="2"/>
<line x1="573.50" y1="299.3" x2="573.50" y2="359.3" stroke="#dcdcdc" stroke-width="2"/>
<line x1="615.50" y1="299.3" x2="615.50" y2="359.3" stroke="#dcdcdc" stroke-width="2"/>
<line x1="657.50" y1="299.3" x2="657.50" y2="359.3" stroke="#dcdcdc" stroke-width="2"/>
<path d="M492 357.8h1v1.6h-1zM497 357.8h1v1.6h-1zM503 357.8h1v1.6h-1zM508 357.8h1v1.6h-1zM514 357.8h1v1.6h-1zM520 357.8h1v1.6h-1zM525 357.8h1v1.6h-1zM531 357.8h1v1.6h-1zM536 357.8h1v1.6h-1zM542 357.8h1v1.6h-1zM547 357.8h1v1.6h-1zM553 357.8h1v1.6h-1zM558 357.8h1v1.6h-1zM564 357.8h1v1.6h-1zM569 357.8h1v1.6h-1zM575 357.8h1v1.6h-1zM581 357.8h1v1.6h-1zM586 357.8h1v1.6h-1zM592 357.8h1v1.6h-1zM597 357.8h1v1.6h-1zM603 357.8h1v1.6h-1zM608 357.8h1v1.6h-1zM614 357.8h1v1.6h-1zM619 357.8h1v1.6h-1zM625 357.8h1v1.6h-1zM631 357.8h1v1.6h-1zM636 357.8h1v1.6h-1zM642 357.8h1v1.6h-1zM647 357.8h1v1.6h-1zM653 357.8h1v1.6h-1zM658 357.8h1v1.6h-1zM664 357.8h1v1.6h-1zM669 357.8h1v1.6h-1zM675 357.8h1v1.6h-1zM680 357.8h1v1.6h-1zM686 357.8h1v1.6h-1zM692 357.8h1v1.6h-1zM697 357.8h1v1.6h-1z" fill="#b4b4b4"/>
<path d="M492 354.7h1v1.6h-1zM497 354.7h1v1.6h-1zM503 354.7h1v1.6h-1zM508 354.7h1v1.6h-1zM514 354.7h1v1.6h-1zM520 354.7h1v1.6h-1zM525 354.7h1v1.6h-1zM531 354.7h1v1.6h-1zM536 354.7h1v1.6h-1zM542 354.7h1v1.6h-1zM547 354.7h1v1.6h-1zM553 354.7h1v1.6h-1zM558 354.7h1v1.6h-1zM564 354.7h1v1.6h-1zM569 354.7h1v1.6h-1zM575 354.7h1v1.6h-1zM581 354.7h1v1.6h-1zM586 354.7h1v1.6h-1zM592 354.7h1v1.6h-1zM597 354.7h1v1.6h-1zM603 354.7h1v1.6h-1zM608 354.7h1v1.6h-1zM614 354.7h1v1.6h-1zM619 354.7h1v1.6h-1zM625 354.7h1v1.6h-1zM631 354.7h1v1.6h-1zM636 354.7h1v1.6h-1zM642 354.7h1v1.6h-1zM647 354.7h1v1.6h-1zM653 354.7h1v1.6h-1zM658 354.7h1v1.6h-1zM664 354.7h1v1.6h-1zM669 354.7h1v1.6h-1zM675 354.7h1v1.6h-1zM680 354.7h1v1.6h-1zM686 354.7h1v1.6h-1zM692 354.7h1v1.6h-1zM697 354.7h1v1.6h-1z" fill="#b4b4b4"/>
<path d="M492 351.6h1v1.6h-1zM497 351.6h1v1.6h-1zM503 351.6h1v1.6h-1zM508 351.6h1v1.6h-1zM514 351.6h1v1.6h-1zM520 351.6h1v1.6h-1zM525 351.6h1v1.6h-1zM531 351.6h1v1.6h-1zM536 351.6h1v1.6h-1zM542 351.6h1v1.6h-1zM547 351.6h1v1.6h-1zM553 351.6h1v1.6h-1zM558 351.6h1v1.6h-1zM564 351.6h1v1.6h-1zM569 351.6h1v1.6h-1zM575 351.6h1v1.6h-1zM581 351.6h1v1.6h-1zM586 351.6h1v1.6h-1zM592 351.6h1v1.6h-1zM597 351.6h1v1.6h-1zM603 351.6h1v1.6h-1zM608 351.6h1v1.6h-1zM614 351.6h1v1.6h-1zM619 351.6h1v1.6h-1zM625 351.6h1v1.6h-1zM631 351.6h1v1.6h-1zM636 351.6h1v1.6h-1zM642 351.6h1v1.6h-1zM647 351.6h1v1.6h-1zM653 351.6h1v1.6h-1zM658 351.6h1v1.6h-1zM664 351.6h1v1.6h-1zM669 351.6h1v1.6h-1zM675 351.6h1v1.6h-1zM680 351.6h1v1.6h-1zM686 351.6h1v1.6h-1zM692 351.6h1v1.6h-1zM697 351.6h1v1.6h-1z" fill="#b4b4b4"/>
<path d="M492 348.6h1v1.6h-1zM497 348.6h1v1.6h-1zM503 348.6h1v1.6h-1zM508 348.6h1v1.6h-1zM514 348.6h1v1.6h-1zM520 348.6h1v1.6h-1zM525 348.6h1v1.6h-1zM531 348.6h1v1.6h-1zM536 348.6h1v1.6h-1zM542 348.6h1v1.6h-1zM547 348.6h1v1.6h-1zM553 348.6h1v1.6h-1zM558 348.6h1v1.6h-1zM564 348.6h1v1.6h-1zM569 348.6h1v1.6h-1zM575 348.6h1v1.6h-1zM581 348.6h1v1.6h-1zM586 348.6h1v1.6h-1zM592 348.6h1v1.6h-1zM597 348.6h1v1.6h-1zM603 348.6h1v1.6h-1zM608 348.6h1v1.6h-1zM614 348.6h1v1.6h-1zM619 348.6h1v1.6h-1zM625 348.6h1v1.6h-1zM631 348.6h1v1.6h-1zM636 348.6h1v1.6h-1zM642 348.6h1v1.6h-1zM647 348.6h1v1.6h-1zM653 348.6h1v1.6h-1zM658 348.6h1v1.6h-1zM664 348.6h1v1.6h-1zM669 348.6h1v1.6h-1zM675 348.6h1v1.6h-1zM680 348.6h1v1.6h-1zM686 348.6h1v1.6h-1zM692 348.6h1v1.6h-1zM697 348.6h1v1.6h-1z" fill="#b4b4b4"/>
<path d="M492 342.4h1v1.6h-1zM497 342.4h1v1.6h-1zM503 342.4h1v1.6h-1zM508 342.4h1v1.6h-1zM514 342.4h1v1.6h-1zM520 342.4h1v1.6h-1zM525 342.4h1v1.6h-1zM531 342.4h1v1.6h-1zM536 342.4h1v1.6h-1zM542 342.4h1v1.6h-1zM547 342.4h1v1.6h-1zM553 342.4h1v1.6h-1zM558 342.4h1v1.6h-1zM564 342.4h1v1.6h-1zM569 342.4h1v1.6h-1zM575 342.4h1v1.6h-1zM581 342.4h1v1.6h-1zM586 342.4h1v1.6h-1zM592 342.4h1v1.6h-1zM597 342.4h1v1.6h-1zM603 342.4h1v1.6h-1zM608 342.4h1v1.6h-1zM614 342.4h1v1.6h-1zM619 342.4h1v1.6h-1zM625 342.4h1v1.6h-1zM631 342.4h1v1.6h-1zM636 342.4h1v1.6h-1zM642 342.4h1v1.6h-1zM647 342.4h1v1.6h-1zM653 342.4h1v1.6h-1zM658 342.4h1v1.6h-1zM664 342.4h1v1.6h-1zM669 342.4h1v1.6h-1zM675 342.4h1v1.6h-1zM680 342.4h1v1.6h-1zM686 342.4h1v1.6h-1zM692 342.4h1v1.6h-1zM697 342.4h1v1.6h-1z" fill="#b4b4b4"/>
<path d="M492 339.4h1v1.6h-1zM497 339.4h1v1.6h-1zM503 339.4h1v1.6h-1zM508 339.4h1v1.6h-1zM514 339.4h1v1.6h-1zM520 339.4h1v1.6h-1zM525 339.4h1v1.6h-1zM531 339.4h1v1.6h-1zM536 339.4h1v1.6h-1zM542 339.4h1v1.6h-1zM547 339.4h1v1.6h-1zM553 339.4h1v1.6h-1zM558 339.4h1v1.6h-1zM564 339.4h1v1.6h-1zM569 339.4h1v1.6h-1zM575 339.4h1v1.6h-1zM581 339.4h1v1.6h-1zM586 339.4h1v1.6h-1zM592 339.4h1v1.6h-1zM597 339.4h1v1.6h-1zM603 339.4h1v1.6h-1zM608 339.4h1v1.6h-1zM614 339.4h1v1.6h-1zM619 339.4h1v1.6h-1zM625 339.4h1v1.6h-1zM631 339.4h1v1.6h-1zM636 339.4h1v1.6h-1zM642 339.4h1v1.6h-1zM647 339.4h1v1.6h-1zM653 339.4h1v1.6h-1zM658 339.4h1v1.6h-1zM664 339.4h1v1.6h-1zM669 339.4h1v1.6h-1zM675 339.4h1v1.6h-1zM680 339.4h1v1.6h-1zM686 339.4h1v1.6h-1zM692 339.4h1v1.6h-1zM697 339.4h1v1.6h-1z" fill="#b4b4b4"/>
<path d="M492 336.3h1v1.6h-1zM497 336.3h1v1.6h-1zM503 336.3h1v1.6h-1zM508 336.3h1v1.6h-1zM514 336.3h1v1.6h-1zM520 336.3h1v1.6h-1zM525 336.3h1v1.6h-1zM531 336.3h1v1.6h-1zM536 336.3h1v1.6h-1zM542 336.3h1v1.6h-1zM547 336.3h1v1.6h-1zM553 336.3h1v1.6h-1zM558 336.3h1v1.6h-1zM564 336.3h1v1.6h-1zM569 336.3h1v1.6h-1zM575 336.3h1v1.6h-1zM581 336.3h1v1.6h-1zM586 336.3h1v1.6h-1zM592 336.3h1v1.6h-1zM597 336.3h1v1.6h-1zM603 336.3h1v1.6h-1zM608 336.3h1v1.6h-1zM614 336.3h1v1.6h-1zM619 336.3h1v1.6h-1zM625 336.3h1v1.6h-1zM631 336.3h1v1.6h-1zM636 336.3h1v1.6h-1zM642 336.3h1v1.6h-1zM647 336.3h1v1.6h-1zM653 336.3h1v1.6h-1zM658 336.3h1v1.6h-1zM664 336.3h1v1.6h-1zM669 336.3h1v1.6h-1zM675 336.3h1v1.6h-1zM680 336.3h1v1.6h-1zM686 336.3h1v1.6h-1zM692 336.3h1v1.6h-1zM697 336.3h1v1.6h-1z" fill="#b4b4b4"/>
<path d="M492 333.2h1v1.6h-1zM497 333.2h1v1.6h-1zM503 333.2h1v1.6h-1zM508 333.2h1v1.6h-1zM514 333.2h1v1.6h-1zM520 333.2h1v1.6h-1zM525 333.2h1v1.6h-1zM531 333.2h1v1.6h-1zM536 333.2h1v1.6h-1zM542 333.2h1v1.6h-1zM547 333.2h1v1.6h-1zM553 333.2h1v1.6h-1zM558 333.2h1v1.6h-1zM564 333.2h1v1.6h-1zM569 333.2h1v1.6h-1zM575 333.2h1v1.6h-1zM581 333.2h1v1.6h-1zM586 333.2h1v1.6h-1zM592 333.2h1v1.6h-1zM597 333.2h1v1.6h-1zM603 333.2h1v1.6h-1zM608 333.2h1v1.6h-1zM614 333.2h1v1.6h-1zM619 333.2h1v1.6h-1zM625 333.2h1v1.6h-1zM631 333.2h1v1.6h-1zM636 333.2h1v1.6h-1zM642 333.2h1v1.6h-1zM647 333.2h1v1.6h-1zM653 333.2h1v1.6h-1zM658 333.2h1v1.6h-1zM664 333.2h1v1.6h-1zM669 333.2h1v1.6h-1zM675 333.2h1v1.6h-1zM680 333.2h1v1.6h-1zM686 333.2h1v1.6h-1zM692 333.2h1v1.6h-1zM697 333.2h1v1.6h-1z" fill="#b4b4b4"/>
<path d="M492 327.1h1v1.6h-1zM497 327.1h1v1.6h-1zM503 327.1h1v1.6h-1zM508 327.1h1v1.6h-1zM514 327.1h1v1.6h-1zM520 327.1h1v1.6h-1zM525 327.1h1v1.6h-1zM531 327.1h1v1.6h-1zM536 327.1h1v1.6h-1zM542 327.1h1v1.6h-1zM547 327.1h1v1.6h-1zM553 327.1h1v1.6h-1zM558 327.1h1v1.6h-1zM564 327.1h1v1.6h-1zM569 327.1h1v1.6h-1zM575 327.1h1v1.6h-1zM581 327.1h1v1.6h-1zM586 327.1h1v1.6h-1zM592 327.1h1v1.6h-1zM597 327.1h1v1.6h-1zM603 327.1h1v1.6h-1zM608 327.1h1v1.6h-1zM614 327.1h1v1.6h-1zM619 327.1h1v1.6h-1zM625 327.1h1v1.6h-1zM631 327.1h1v1.6h-1zM636 327.1h1v1.6h-1zM642 327.1h1v1.6h-1zM647 327.1h1v1.6h-1zM653 327.1h1v1.6h-1zM658 327.1h1v1.6h-1zM664 327.1h1v1.6h-1zM669 327.1h1v1.6h-1zM675 327.1h1v1.6h-1zM680 327.1h1v1.6h-1zM686 327.1h1v1.6h-1zM692 327.1h1v1.6h-1zM697 327.1h1v1.6h-1z" fill="#b4b4b4"/>
<path d="M492 324.0h1v1.6h-1zM497 324.0h1v1.6h-1zM503 324.0h1v1.6h-1zM508 324.0h1v1.6h-1zM514 324.0h1v1.6h-1zM520 324.0h1v1.6h-1zM525 324.0h1v1.6h-1zM531 324.0h1v1.6h-1zM536 324.0h1v1.6h-1zM542 324.0h1v1.6h-1zM547 324.0h1v1.6h-1zM553 324.0h1v1.6h-1zM558 324.0h1v1.6h-1zM564 324.0h1v1.6h-1zM569 324.0h1v1.6h-1zM575 324.0h1v1.6h-1zM581 324.0h1v1.6h-1zM586 324.0h1v1.6h-1zM592 324.0h1v1.6h-1zM597 324.0h1v1.6h-1zM603 324.0h1v1.6h-1zM608 324.0h1v1.6h-1zM614 324.0h1v1.6h-1zM619 324.0h1v1.6h-1zM625 324.0h1v1.6h-1zM631 324.0h1v1.6h-1zM636 324.0h1v1.6h-1zM642 324.0h1v1.6h-1zM647 324.0h1v1.6h-1zM653 324.0h1v1.6h-1zM658 324.0h1v1.6h-1zM664 324.0h1v1.6h-1zM669 324.0h1v1.6h-1zM675 324.0h1v1.6h-1zM680 324.0h1v1.6h-1zM686 324.0h1v1.6h-1zM692 324.0h1v1.6h-1zM697 324.0h1v1.6h-1z" fill="#b4b4b4"/>
<path d="M492 320.9h1v1.6h-1zM497 320.9h1v1.6h-1zM503 320.9h1v1.6h-1zM508 320.9h1v1.6h-1zM514 320.9h1v1.6h-1zM520 320.9h1v1.6h-1zM525 320.9h1v1.6h-1zM531 320.9h1v1.6h-1zM536 320.9h1v1.6h-1zM542 320.9h1v1.6h-1zM547 320.9h1v1.6h-1zM553 320.9h1v1.6h-1zM558 320.9h1v1.6h-1zM564 320.9h1v1.6h-1zM569 320.9h1v1.6h-1zM575 320.9h1v1.6h-1zM581 320.9h1v1.6h-1zM586 320.9h1v1.6h-1zM592 320.9h1v1.6h-1zM597 320.9h1v1.6h-1zM603 320.9h1v1.6h-1zM608 320.9h1v1.6h-1zM614 320.9h1v1.6h-1zM619 320.9h1v1.6h-1zM625 320.9h1v1.6h-1zM631 320.9h1v1.6h-1zM636 320.9h1v1.6h-1zM642 320.9h1v1.6h-1zM647 320.9h1v1.6h-1zM653 320.9h1v1.6h-1zM658 320.9h1v1.6h-1zM664 320.9h1v1.6h-1zM669 320.9h1v1.6h-1zM675 320.9h1v1.6h-1zM680 320.9h1v1.6h-1zM686 320.9h1v1.6h-1zM692 320.9h1v1.6h-1zM697 320.9h1v1.6h-1z" fill="#b4b4b4"/>
<path d="M492 317.8h1v1.6h-1zM497 317.8h1v1.6h-1zM503 317.8h1v1.6h-1zM508 317.8h1v1.6h-1zM514 317.8h1v1.6h-1zM520 317.8h1v1.6h-1zM525 317.8h1v1.6h-1zM531 317.8h1v1.6h-1zM536 317.8h1v1.6h-1zM542 317.8h1v1.6h-1zM547 317.8h1v1.6h-1zM553 317.8h1v1.6h-1zM558 317.8h1v1.6h-1zM564 317.8h1v1.6h-1zM569 317.8h1v1.6h-1zM575 317.8h1v1.6h-1zM581 317.8h1v1.6h-1zM586 317.8h1v1.6h-1zM592 317.8h1v1.6h-1zM597 317.8h1v1.6h-1zM603 317.8h1v1.6h-1zM608 317.8h1v1.6h-1zM614 317.8h1v1.6h-1zM619 317.8h1v1.6h-1zM625 317.8h1v1.6h-1zM631 317.8h1v1.6h-1zM636 317.8h1v1.6h-1zM642 317.8h1v1.6h-1zM647 317.8h1v1.6h-1zM653 317.8h1v1.6h-1zM658 317.8h1v1.6h-1zM664 317.8h1v1.6h-1zM669 317.8h1v1.6h-1zM675 317.8h1v1.6h-1zM680 317.8h1v1.6h-1zM686 317.8h1v1.6h-1zM692 317.8h1v1.6h-1zM697 317.8h1v1.6h-1z" fill="#b4b4b4"/>
<path d="M492 311.7h1v1.6h-1zM497 311.7h1v1.6h-1zM503 311.7h1v1.6h-1zM508 311.7h1v1.6h-1zM514 311.7h1v1.6h-1zM520 311.7h1v1.6h-1zM525 311.7h1v1.6h-1zM531 311.7h1v1.6h-1zM536 311.7h1v1.6h-1zM542 311.7h1v1.6h-1zM547 311.7h1v1.6h-1zM553 311.7h1v1.6h-1zM558 311.7h1v1.6h-1zM564 311.7h1v1.6h-1zM569 311.7h1v1.6h-1zM575 311.7h1v1.6h-1zM581 311.7h1v1.6h-1zM586 311.7h1v1.6h-1zM592 311.7h1v1.6h-1zM597 311.7h1v1.6h-1zM603 311.7h1v1.6h-1zM608 311.7h1v1.6h-1zM614 311.7h1v1.6h-1zM619 311.7h1v1.6h-1zM625 311.7h1v1.6h-1zM631 311.7h1v1.6h-1zM636 311.7h1v1.6h-1zM642 311.7h1v1.6h-1zM647 311.7h1v1.6h-1zM653 311.7h1v1.6h-1zM658 311.7h1v1.6h-1zM664 311.7h1v1.6h-1zM669 311.7h1v1.6h-1zM675 311.7h1v1.6h-1zM680 311.7h1v1.6h-1zM686 311.7h1v1.6h-1zM692 311.7h1v1.6h-1zM697 311.7h1v1.6h-1z" fill="#b4b4b4"/>
<path d="M492 308.6h1v1.6h-1zM497 308.6h1v1.6h-1zM503 308.6h1v1.6h-1zM508 308.6h1v1.6h-1zM514 308.6h1v1.6h-1zM520 308.6h1v1.6h-1zM525 308.6h1v1.6h-1zM531 308.6h1v1.6h-1zM536 308.6h1v1.6h-1zM542 308.6h1v1.6h-1zM547 308.6h1v1.6h-1zM553 308.6h1v1.6h-1zM558 308.6h1v1.6h-1zM564 308.6h1v1.6h-1zM569 308.6h1v1.6h-1zM575 308.6h1v1.6h-1zM581 308.6h1v1.6h-1zM586 308.6h1v1.6h-1zM592 308.6h1v1.6h-1zM597 308.6h1v1.6h-1zM603 308.6h1v1.6h-1zM608 308.6h1v1.6h-1zM614 308.6h1v1.6h-1zM619 308.6h1v1.6h-1zM625 308.6h1v1.6h-1zM631 308.6h1v1.6h-1zM636 308.6h1v1.6h-1zM642 308.6h1v1.6h-1zM647 308.6h1v1.6h-1zM653 308.6h1v1.6h-1zM658 308.6h1v1.6h-1zM664 308.6h1v1.6h-1zM669 308.6h1v1.6h-1zM675 308.6h1v1.6h-1zM680 308.6h1v1.6h-1zM686 308.6h1v1.6h-1zM692 308.6h1v1.6h-1zM697 308.6h1v1.6h-1z" fill="#b4b4b4"/>
<path d="M492 305.5h1v1.6h-1zM497 305.5h1v1.6h-1zM503 305.5h1v1.6h-1zM508 305.5h1v1.6h-1zM514 305.5h1v1.6h-1zM520 305.5h1v1.6h-1zM525 305.5h1v1.6h-1zM531 305.5h1v1.6h-1zM536 305.5h1v1.6h-1zM542 305.5h1v1.6h-1zM547 305.5h1v1.6h-1zM553 305.5h1v1.6h-1zM558 305.5h1v1.6h-1zM564 305.5h1v1.6h-1zM569 305.5h1v1.6h-1zM575 305.5h1v1.6h-1zM581 305.5h1v1.6h-1zM586 305.5h1v1.6h-1zM592 305.5h1v1.6h-1zM597 305.5h1v1.6h-1zM603 305.5h1v1.6h-1zM608 305.5h1v1.6h-1zM614 305.5h1v1.6h-1zM619 305.5h1v1.6h-1zM625 305.5h1v1.6h-1zM631 305.5h1v1.6h-1zM636 305.5h1v1.6h-1zM642 305.5h1v1.6h-1zM647 305.5h1v1.6h-1zM653 305.5h1v1.6h-1zM658 305.5h1v1.6h-1zM664 305.5h1v1.6h-1zM669 305.5h1v1.6h-1zM675 305.5h1v1.6h-1zM680 305.5h1v1.6h-1zM686 305.5h1v1.6h-1zM692 305.5h1v1.6h-1zM697 305.5h1v1.6h-1z" fill="#b4b4b4"/>
<path d="M492 302.5h1v1.6h-1zM497 302.5h1v1.6h-1zM503 302.5h1v1.6h-1zM508 302.5h1v1.6h-1zM514 302.5h1v1.6h-1zM520 302.5h1v1.6h-1zM525 302.5h1v1.6h-1zM531 302.5h1v1.6h-1zM536 302.5h1v1.6h-1zM542 302.5h1v1.6h-1zM547 302.5h1v1.6h-1zM553 302.5h1v1.6h-1zM558 302.5h1v1.6h-1zM564 302.5h1v1.6h-1zM569 302.5h1v1.6h-1zM575 302.5h1v1.6h-1zM581 302.5h1v1.6h-1zM586 302.5h1v1.6h-1zM592 302.5h1v1.6h-1zM597 302.5h1v1.6h-1zM603 302.5h1v1.6h-1zM608 302.5h1v1.6h-1zM614 302.5h1v1.6h-1zM619 302.5h1v1.6h-1zM625 302.5h1v1.6h-1zM631 302.5h1v1.6h-1zM636 302.5h1v1.6h-1zM642 302.5h1v1.6h-1zM647 302.5h1v1.6h-1zM653 302.5h1v1.6h-1zM658 302.5h1v1.6h-1zM664 302.5h1v1.6h-1zM669 302.5h1v1.6h-1zM675 302.5h1v1.6h-1zM680 302.5h1v1.6h-1zM686 302.5h1v1.6h-1zM692 302.5h1v1.6h-1zM697 302.5h1v1.6h-1z" fill="#b4b4b4"/>
<rect x="490.5" y="299.3" width="208.0" height="60.0" fill="none" stroke="#262626" stroke-width="2"/>
<path d="M490.5 346.30h3.4M698.5 346.30h-3.4" stroke="#262626" stroke-width="2"/>
<path d="M490.5 330.93h3.4M698.5 330.93h-3.4" stroke="#262626" stroke-width="2"/>
<path d="M490.5 315.57h3.4M698.5 315.57h-3.4" stroke="#262626" stroke-width="2"/>
<path d="M490.5 300.20h3.4M698.5 300.20h-3.4" stroke="#262626" stroke-width="2"/>
<path d="M532.40 359.3v-3.4M532.40 299.3v3.4" stroke="#262626" stroke-width="2"/>
<path d="M573.40 359.3v-3.4M573.40 299.3v3.4" stroke="#262626" stroke-width="2"/>
<path d="M615.40 359.3v-3.4M615.40 299.3v3.4" stroke="#262626" stroke-width="2"/>
<path d="M657.40 359.3v-3.4M657.40 299.3v3.4" stroke="#262626" stroke-width="2"/>
<line x1="147.5" y1="439.50" x2="355.5" y2="439.50" stroke="#dcdcdc" stroke-width="2"/>
<line x1="188.50" y1="427.3" x2="188.50" y2="487.3" stroke="#dcdcdc" stroke-width="2"/>
<line x1="230.50" y1="427.3" x2="230.50" y2="487.3" stroke="#dcdcdc" stroke-width="2"/>
<line x1="272.50" y1="427.3" x2="272.50" y2="487.3" stroke="#dcdcdc" stroke-width="2"/>
<line x1="313.50" y1="427.3" x2="313.50" y2="487.3" stroke="#dcdcdc" stroke-width="2"/>
<path d="M149 476.9h1v1.6h-1zM154 476.9h1v1.6h-1zM160 476.9h1v1.6h-1zM165 476.9h1v1.6h-1zM171 476.9h1v1.6h-1zM177 476.9h1v1.6h-1zM182 476.9h1v1.6h-1zM188 476.9h1v1.6h-1zM193 476.9h1v1.6h-1zM199 476.9h1v1.6h-1zM204 476.9h1v1.6h-1zM210 476.9h1v1.6h-1zM215 476.9h1v1.6h-1zM221 476.9h1v1.6h-1zM227 476.9h1v1.6h-1zM232 476.9h1v1.6h-1zM238 476.9h1v1.6h-1zM243 476.9h1v1.6h-1zM249 476.9h1v1.6h-1zM254 476.9h1v1.6h-1zM260 476.9h1v1.6h-1zM265 476.9h1v1.6h-1zM271 476.9h1v1.6h-1zM276 476.9h1v1.6h-1zM282 476.9h1v1.6h-1zM288 476.9h1v1.6h-1zM293 476.9h1v1.6h-1zM299 476.9h1v1.6h-1zM304 476.9h1v1.6h-1zM310 476.9h1v1.6h-1zM315 476.9h1v1.6h-1zM321 476.9h1v1.6h-1zM326 476.9h1v1.6h-1zM332 476.9h1v1.6h-1zM338 476.9h1v1.6h-1zM343 476.9h1v1.6h-1zM349 476.9h1v1.6h-1zM354 476.9h1v1.6h-1z" fill="#b4b4b4"/>
<path d="M149 467.3h1v1.6h-1zM154 467.3h1v1.6h-1zM160 467.3h1v1.6h-1zM165 467.3h1v1.6h-1zM171 467.3h1v1.6h-1zM177 467.3h1v1.6h-1zM182 467.3h1v1.6h-1zM188 467.3h1v1.6h-1zM193 467.3h1v1.6h-1zM199 467.3h1v1.6h-1zM204 467.3h1v1.6h-1zM210 467.3h1v1.6h-1zM215 467.3h1v1.6h-1zM221 467.3h1v1.6h-1zM227 467.3h1v1.6h-1zM232 467.3h1v1.6h-1zM238 467.3h1v1.6h-1zM243 467.3h1v1.6h-1zM249 467.3h1v1.6h-1zM254 467.3h1v1.6h-1zM260 467.3h1v1.6h-1zM265 467.3h1v1.6h-1zM271 467.3h1v1.6h-1zM276 467.3h1v1.6h-1zM282 467.3h1v1.6h-1zM288 467.3h1v1.6h-1zM293 467.3h1v1.6h-1zM299 467.3h1v1.6h-1zM304 467.3h1v1.6h-1zM310 467.3h1v1.6h-1zM315 467.3h1v1.6h-1zM321 467.3h1v1.6h-1zM326 467.3h1v1.6h-1zM332 467.3h1v1.6h-1zM338 467.3h1v1.6h-1zM343 467.3h1v1.6h-1zM349 467.3h1v1.6h-1zM354 467.3h1v1.6h-1z" fill="#b4b4b4"/>
<path d="M149 457.8h1v1.6h-1zM154 457.8h1v1.6h-1zM160 457.8h1v1.6h-1zM165 457.8h1v1.6h-1zM171 457.8h1v1.6h-1zM177 457.8h1v1.6h-1zM182 457.8h1v1.6h-1zM188 457.8h1v1.6h-1zM193 457.8h1v1.6h-1zM199 457.8h1v1.6h-1zM204 457.8h1v1.6h-1zM210 457.8h1v1.6h-1zM215 457.8h1v1.6h-1zM221 457.8h1v1.6h-1zM227 457.8h1v1.6h-1zM232 457.8h1v1.6h-1zM238 457.8h1v1.6h-1zM243 457.8h1v1.6h-1zM249 457.8h1v1.6h-1zM254 457.8h1v1.6h-1zM260 457.8h1v1.6h-1zM265 457.8h1v1.6h-1zM271 457.8h1v1.6h-1zM276 457.8h1v1.6h-1zM282 457.8h1v1.6h-1zM288 457.8h1v1.6h-1zM293 457.8h1v1.6h-1zM299 457.8h1v1.6h-1zM304 457.8h1v1.6h-1zM310 457.8h1v1.6h-1zM315 457.8h1v1.6h-1zM321 457.8h1v1.6h-1zM326 457.8h1v1.6h-1zM332 457.8h1v1.6h-1zM338 457.8h1v1.6h-1zM343 457.8h1v1.6h-1zM349 457.8h1v1.6h-1zM354 457.8h1v1.6h-1z" fill="#b4b4b4"/>
<path d="M149 448.2h1v1.6h-1zM154 448.2h1v1.6h-1zM160 448.2h1v1.6h-1zM165 448.2h1v1.6h-1zM171 448.2h1v1.6h-1zM177 448.2h1v1.6h-1zM182 448.2h1v1.6h-1zM188 448.2h1v1.6h-1zM193 448.2h1v1.6h-1zM199 448.2h1v1.6h-1zM204 448.2h1v1.6h-1zM210 448.2h1v1.6h-1zM215 448.2h1v1.6h-1zM221 448.2h1v1.6h-1zM227 448.2h1v1.6h-1zM232 448.2h1v1.6h-1zM238 448.2h1v1.6h-1zM243 448.2h1v1.6h-1zM249 448.2h1v1.6h-1zM254 448.2h1v1.6h-1zM260 448.2h1v1.6h-1zM265 448.2h1v1.6h-1zM271 448.2h1v1.6h-1zM276 448.2h1v1.6h-1zM282 448.2h1v1.6h-1zM288 448.2h1v1.6h-1zM293 448.2h1v1.6h-1zM299 448.2h1v1.6h-1zM304 448.2h1v1.6h-1zM310 448.2h1v1.6h-1zM315 448.2h1v1.6h-1zM321 448.2h1v1.6h-1zM326 448.2h1v1.6h-1zM332 448.2h1v1.6h-1zM338 448.2h1v1.6h-1zM343 448.2h1v1.6h-1zM349 448.2h1v1.6h-1zM354 448.2h1v1.6h-1z" fill="#b4b4b4"/>
<path d="M149 429.0h1v1.6h-1zM154 429.0h1v1.6h-1zM160 429.0h1v1.6h-1zM165 429.0h1v1.6h-1zM171 429.0h1v1.6h-1zM177 429.0h1v1.6h-1zM182 429.0h1v1.6h-1zM188 429.0h1v1.6h-1zM193 429.0h1v1.6h-1zM199 429.0h1v1.6h-1zM204 429.0h1v1.6h-1zM210 429.0h1v1.6h-1zM215 429.0h1v1.6h-1zM221 429.0h1v1.6h-1zM227 429.0h1v1.6h-1zM232 429.0h1v1.6h-1zM238 429.0h1v1.6h-1zM243 429.0h1v1.6h-1zM249 429.0h1v1.6h-1zM254 429.0h1v1.6h-1zM260 429.0h1v1.6h-1zM265 429.0h1v1.6h-1zM271 429.0h1v1.6h-1zM276 429.0h1v1.6h-1zM282 429.0h1v1.6h-1zM288 429.0h1v1.6h-1zM293 429.0h1v1.6h-1zM299 429.0h1v1.6h-1zM304 429.0h1v1.6h-1zM310 429.0h1v1.6h-1zM315 429.0h1v1.6h-1zM321 429.0h1v1.6h-1zM326 429.0h1v1.6h-1zM332 429.0h1v1.6h-1zM338 429.0h1v1.6h-1zM343 429.0h1v1.6h-1zM349 429.0h1v1.6h-1zM354 429.0h1v1.6h-1z" fill="#b4b4b4"/>
<rect x="147.5" y="427.3" width="208.0" height="60.0" fill="none" stroke="#262626" stroke-width="2"/>
<path d="M147.5 487.30h3.4M355.5 487.30h-3.4" stroke="#262626" stroke-width="2"/>
<path d="M147.5 439.40h3.4M355.5 439.40h-3.4" stroke="#262626" stroke-width="2"/>
<path d="M188.40 487.3v-3.4M188.40 427.3v3.4" stroke="#262626" stroke-width="2"/>
<path d="M230.40 487.3v-3.4M230.40 427.3v3.4" stroke="#262626" stroke-width="2"/>
<path d="M272.40 487.3v-3.4M272.40 427.3v3.4" stroke="#262626" stroke-width="2"/>
<path d="M313.40 487.3v-3.4M313.40 427.3v3.4" stroke="#262626" stroke-width="2"/>
<line x1="490.5" y1="466.50" x2="698.5" y2="466.50" stroke="#dcdcdc" stroke-width="2"/>
<line x1="490.5" y1="446.50" x2="698.5" y2="446.50" stroke="#dcdcdc" stroke-width="2"/>
<line x1="532.50" y1="427.3" x2="532.50" y2="487.3" stroke="#dcdcdc" stroke-width="2"/>
<line x1="573.50" y1="427.3" x2="573.50" y2="487.3" stroke="#dcdcdc" stroke-width="2"/>
<line x1="615.50" y1="427.3" x2="615.50" y2="487.3" stroke="#dcdcdc" stroke-width="2"/>
<line x1="657.50" y1="427.3" x2="657.50" y2="487.3" stroke="#dcdcdc" stroke-width="2"/>
<path d="M492 482.1h1v1.6h-1zM497 482.1h1v1.6h-1zM503 482.1h1v1.6h-1zM508 482.1h1v1.6h-1zM514 482.1h1v1.6h-1zM520 482.1h1v1.6h-1zM525 482.1h1v1.6h-1zM531 482.1h1v1.6h-1zM536 482.1h1v1.6h-1zM542 482.1h1v1.6h-1zM547 482.1h1v1.6h-1zM553 482.1h1v1.6h-1zM558 482.1h1v1.6h-1zM564 482.1h1v1.6h-1zM569 482.1h1v1.6h-1zM575 482.1h1v1.6h-1zM581 482.1h1v1.6h-1zM586 482.1h1v1.6h-1zM592 482.1h1v1.6h-1zM597 482.1h1v1.6h-1zM603 482.1h1v1.6h-1zM608 482.1h1v1.6h-1zM614 482.1h1v1.6h-1zM619 482.1h1v1.6h-1zM625 482.1h1v1.6h-1zM631 482.1h1v1.6h-1zM636 482.1h1v1.6h-1zM642 482.1h1v1.6h-1zM647 482.1h1v1.6h-1zM653 482.1h1v1.6h-1zM658 482.1h1v1.6h-1zM664 482.1h1v1.6h-1zM669 482.1h1v1.6h-1zM675 482.1h1v1.6h-1zM680 482.1h1v1.6h-1zM686 482.1h1v1.6h-1zM692 482.1h1v1.6h-1zM697 482.1h1v1.6h-1z" fill="#b4b4b4"/>
<path d="M492 478.1h1v1.6h-1zM497 478.1h1v1.6h-1zM503 478.1h1v1.6h-1zM508 478.1h1v1.6h-1zM514 478.1h1v1.6h-1zM520 478.1h1v1.6h-1zM525 478.1h1v1.6h-1zM531 478.1h1v1.6h-1zM536 478.1h1v1.6h-1zM542 478.1h1v1.6h-1zM547 478.1h1v1.6h-1zM553 478.1h1v1.6h-1zM558 478.1h1v1.6h-1zM564 478.1h1v1.6h-1zM569 478.1h1v1.6h-1zM575 478.1h1v1.6h-1zM581 478.1h1v1.6h-1zM586 478.1h1v1.6h-1zM592 478.1h1v1.6h-1zM597 478.1h1v1.6h-1zM603 478.1h1v1.6h-1zM608 478.1h1v1.6h-1zM614 478.1h1v1.6h-1zM619 478.1h1v1.6h-1zM625 478.1h1v1.6h-1zM631 478.1h1v1.6h-1zM636 478.1h1v1.6h-1zM642 478.1h1v1.6h-1zM647 478.1h1v1.6h-1zM653 478.1h1v1.6h-1zM658 478.1h1v1.6h-1zM664 478.1h1v1.6h-1zM669 478.1h1v1.6h-1zM675 478.1h1v1.6h-1zM680 478.1h1v1.6h-1zM686 478.1h1v1.6h-1zM692 478.1h1v1.6h-1zM697 478.1h1v1.6h-1z" fill="#b4b4b4"/>
<path d="M492 474.0h1v1.6h-1zM497 474.0h1v1.6h-1zM503 474.0h1v1.6h-1zM508 474.0h1v1.6h-1zM514 474.0h1v1.6h-1zM520 474.0h1v1.6h-1zM525 474.0h1v1.6h-1zM531 474.0h1v1.6h-1zM536 474.0h1v1.6h-1zM542 474.0h1v1.6h-1zM547 474.0h1v1.6h-1zM553 474.0h1v1.6h-1zM558 474.0h1v1.6h-1zM564 474.0h1v1.6h-1zM569 474.0h1v1.6h-1zM575 474.0h1v1.6h-1zM581 474.0h1v1.6h-1zM586 474.0h1v1.6h-1zM592 474.0h1v1.6h-1zM597 474.0h1v1.6h-1zM603 474.0h1v1.6h-1zM608 474.0h1v1.6h-1zM614 474.0h1v1.6h-1zM619 474.0h1v1.6h-1zM625 474.0h1v1.6h-1zM631 474.0h1v1.6h-1zM636 474.0h1v1.6h-1zM642 474.0h1v1.6h-1zM647 474.0h1v1.6h-1zM653 474.0h1v1.6h-1zM658 474.0h1v1.6h-1zM664 474.0h1v1.6h-1zM669 474.0h1v1.6h-1zM675 474.0h1v1.6h-1zM680 474.0h1v1.6h-1zM686 474.0h1v1.6h-1zM692 474.0h1v1.6h-1zM697 474.0h1v1.6h-1z" fill="#b4b4b4"/>
<path d="M492 469.9h1v1.6h-1zM497 469.9h1v1.6h-1zM503 469.9h1v1.6h-1zM508 469.9h1v1.6h-1zM514 469.9h1v1.6h-1zM520 469.9h1v1.6h-1zM525 469.9h1v1.6h-1zM531 469.9h1v1.6h-1zM536 469.9h1v1.6h-1zM542 469.9h1v1.6h-1zM547 469.9h1v1.6h-1zM553 469.9h1v1.6h-1zM558 469.9h1v1.6h-1zM564 469.9h1v1.6h-1zM569 469.9h1v1.6h-1zM575 469.9h1v1.6h-1zM581 469.9h1v1.6h-1zM586 469.9h1v1.6h-1zM592 469.9h1v1.6h-1zM597 469.9h1v1.6h-1zM603 469.9h1v1.6h-1zM608 469.9h1v1.6h-1zM614 469.9h1v1.6h-1zM619 469.9h1v1.6h-1zM625 469.9h1v1.6h-1zM631 469.9h1v1.6h-1zM636 469.9h1v1.6h-1zM642 469.9h1v1.6h-1zM647 469.9h1v1.6h-1zM653 469.9h1v1.6h-1zM658 469.9h1v1.6h-1zM664 469.9h1v1.6h-1zM669 469.9h1v1.6h-1zM675 469.9h1v1.6h-1zM680 469.9h1v1.6h-1zM686 469.9h1v1.6h-1zM692 469.9h1v1.6h-1zM697 469.9h1v1.6h-1z" fill="#b4b4b4"/>
<path d="M492 461.8h1v1.6h-1zM497 461.8h1v1.6h-1zM503 461.8h1v1.6h-1zM508 461.8h1v1.6h-1zM514 461.8h1v1.6h-1zM520 461.8h1v1.6h-1zM525 461.8h1v1.6h-1zM531 461.8h1v1.6h-1zM536 461.8h1v1.6h-1zM542 461.8h1v1.6h-1zM547 461.8h1v1.6h-1zM553 461.8h1v1.6h-1zM558 461.8h1v1.6h-1zM564 461.8h1v1.6h-1zM569 461.8h1v1.6h-1zM575 461.8h1v1.6h-1zM581 461.8h1v1.6h-1zM586 461.8h1v1.6h-1zM592 461.8h1v1.6h-1zM597 461.8h1v1.6h-1zM603 461.8h1v1.6h-1zM608 461.8h1v1.6h-1zM614 461.8h1v1.6h-1zM619 461.8h1v1.6h-1zM625 461.8h1v1.6h-1zM631 461.8h1v1.6h-1zM636 461.8h1v1.6h-1zM642 461.8h1v1.6h-1zM647 461.8h1v1.6h-1zM653 461.8h1v1.6h-1zM658 461.8h1v1.6h-1zM664 461.8h1v1.6h-1zM669 461.8h1v1.6h-1zM675 461.8h1v1.6h-1zM680 461.8h1v1.6h-1zM686 461.8h1v1.6h-1zM692 461.8h1v1.6h-1zM697 461.8h1v1.6h-1z" fill="#b4b4b4"/>
<path d="M492 457.7h1v1.6h-1zM497 457.7h1v1.6h-1zM503 457.7h1v1.6h-1zM508 457.7h1v1.6h-1zM514 457.7h1v1.6h-1zM520 457.7h1v1.6h-1zM525 457.7h1v1.6h-1zM531 457.7h1v1.6h-1zM536 457.7h1v1.6h-1zM542 457.7h1v1.6h-1zM547 457.7h1v1.6h-1zM553 457.7h1v1.6h-1zM558 457.7h1v1.6h-1zM564 457.7h1v1.6h-1zM569 457.7h1v1.6h-1zM575 457.7h1v1.6h-1zM581 457.7h1v1.6h-1zM586 457.7h1v1.6h-1zM592 457.7h1v1.6h-1zM597 457.7h1v1.6h-1zM603 457.7h1v1.6h-1zM608 457.7h1v1.6h-1zM614 457.7h1v1.6h-1zM619 457.7h1v1.6h-1zM625 457.7h1v1.6h-1zM631 457.7h1v1.6h-1zM636 457.7h1v1.6h-1zM642 457.7h1v1.6h-1zM647 457.7h1v1.6h-1zM653 457.7h1v1.6h-1zM658 457.7h1v1.6h-1zM664 457.7h1v1.6h-1zM669 457.7h1v1.6h-1zM675 457.7h1v1.6h-1zM680 457.7h1v1.6h-1zM686 457.7h1v1.6h-1zM692 457.7h1v1.6h-1zM697 457.7h1v1.6h-1z" fill="#b4b4b4"/>
<path d="M492 453.6h1v1.6h-1zM497 453.6h1v1.6h-1zM503 453.6h1v1.6h-1zM508 453.6h1v1.6h-1zM514 453.6h1v1.6h-1zM520 453.6h1v1.6h-1zM525 453.6h1v1.6h-1zM531 453.6h1v1.6h-1zM536 453.6h1v1.6h-1zM542 453.6h1v1.6h-1zM547 453.6h1v1.6h-1zM553 453.6h1v1.6h-1zM558 453.6h1v1.6h-1zM564 453.6h1v1.6h-1zM569 453.6h1v1.6h-1zM575 453.6h1v1.6h-1zM581 453.6h1v1.6h-1zM586 453.6h1v1.6h-1zM592 453.6h1v1.6h-1zM597 453.6h1v1.6h-1zM603 453.6h1v1.6h-1zM608 453.6h1v1.6h-1zM614 453.6h1v1.6h-1zM619 453.6h1v1.6h-1zM625 453.6h1v1.6h-1zM631 453.6h1v1.6h-1zM636 453.6h1v1.6h-1zM642 453.6h1v1.6h-1zM647 453.6h1v1.6h-1zM653 453.6h1v1.6h-1zM658 453.6h1v1.6h-1zM664 453.6h1v1.6h-1zM669 453.6h1v1.6h-1zM675 453.6h1v1.6h-1zM680 453.6h1v1.6h-1zM686 453.6h1v1.6h-1zM692 453.6h1v1.6h-1zM697 453.6h1v1.6h-1z" fill="#b4b4b4"/>
<path d="M492 449.6h1v1.6h-1zM497 449.6h1v1.6h-1zM503 449.6h1v1.6h-1zM508 449.6h1v1.6h-1zM514 449.6h1v1.6h-1zM520 449.6h1v1.6h-1zM525 449.6h1v1.6h-1zM531 449.6h1v1.6h-1zM536 449.6h1v1.6h-1zM542 449.6h1v1.6h-1zM547 449.6h1v1.6h-1zM553 449.6h1v1.6h-1zM558 449.6h1v1.6h-1zM564 449.6h1v1.6h-1zM569 449.6h1v1.6h-1zM575 449.6h1v1.6h-1zM581 449.6h1v1.6h-1zM586 449.6h1v1.6h-1zM592 449.6h1v1.6h-1zM597 449.6h1v1.6h-1zM603 449.6h1v1.6h-1zM608 449.6h1v1.6h-1zM614 449.6h1v1.6h-1zM619 449.6h1v1.6h-1zM625 449.6h1v1.6h-1zM631 449.6h1v1.6h-1zM636 449.6h1v1.6h-1zM642 449.6h1v1.6h-1zM647 449.6h1v1.6h-1zM653 449.6h1v1.6h-1zM658 449.6h1v1.6h-1zM664 449.6h1v1.6h-1zM669 449.6h1v1.6h-1zM675 449.6h1v1.6h-1zM680 449.6h1v1.6h-1zM686 449.6h1v1.6h-1zM692 449.6h1v1.6h-1zM697 449.6h1v1.6h-1z" fill="#b4b4b4"/>
<path d="M492 441.4h1v1.6h-1zM497 441.4h1v1.6h-1zM503 441.4h1v1.6h-1zM508 441.4h1v1.6h-1zM514 441.4h1v1.6h-1zM520 441.4h1v1.6h-1zM525 441.4h1v1.6h-1zM531 441.4h1v1.6h-1zM536 441.4h1v1.6h-1zM542 441.4h1v1.6h-1zM547 441.4h1v1.6h-1zM553 441.4h1v1.6h-1zM558 441.4h1v1.6h-1zM564 441.4h1v1.6h-1zM569 441.4h1v1.6h-1zM575 441.4h1v1.6h-1zM581 441.4h1v1.6h-1zM586 441.4h1v1.6h-1zM592 441.4h1v1.6h-1zM597 441.4h1v1.6h-1zM603 441.4h1v1.6h-1zM608 441.4h1v1.6h-1zM614 441.4h1v1.6h-1zM619 441.4h1v1.6h-1zM625 441.4h1v1.6h-1zM631 441.4h1v1.6h-1zM636 441.4h1v1.6h-1zM642 441.4h1v1.6h-1zM647 441.4h1v1.6h-1zM653 441.4h1v1.6h-1zM658 441.4h1v1.6h-1zM664 441.4h1v1.6h-1zM669 441.4h1v1.6h-1zM675 441.4h1v1.6h-1zM680 441.4h1v1.6h-1zM686 441.4h1v1.6h-1zM692 441.4h1v1.6h-1zM697 441.4h1v1.6h-1z" fill="#b4b4b4"/>
<path d="M492 437.4h1v1.6h-1zM497 437.4h1v1.6h-1zM503 437.4h1v1.6h-1zM508 437.4h1v1.6h-1zM514 437.4h1v1.6h-1zM520 437.4h1v1.6h-1zM525 437.4h1v1.6h-1zM531 437.4h1v1.6h-1zM536 437.4h1v1.6h-1zM542 437.4h1v1.6h-1zM547 437.4h1v1.6h-1zM553 437.4h1v1.6h-1zM558 437.4h1v1.6h-1zM564 437.4h1v1.6h-1zM569 437.4h1v1.6h-1zM575 437.4h1v1.6h-1zM581 437.4h1v1.6h-1zM586 437.4h1v1.6h-1zM592 437.4h1v1.6h-1zM597 437.4h1v1.6h-1zM603 437.4h1v1.6h-1zM608 437.4h1v1.6h-1zM614 437.4h1v1.6h-1zM619 437.4h1v1.6h-1zM625 437.4h1v1.6h-1zM631 437.4h1v1.6h-1zM636 437.4h1v1.6h-1zM642 437.4h1v1.6h-1zM647 437.4h1v1.6h-1zM653 437.4h1v1.6h-1zM658 437.4h1v1.6h-1zM664 437.4h1v1.6h-1zM669 437.4h1v1.6h-1zM675 437.4h1v1.6h-1zM680 437.4h1v1.6h-1zM686 437.4h1v1.6h-1zM692 437.4h1v1.6h-1zM697 437.4h1v1.6h-1z" fill="#b4b4b4"/>
<path d="M492 433.3h1v1.6h-1zM497 433.3h1v1.6h-1zM503 433.3h1v1.6h-1zM508 433.3h1v1.6h-1zM514 433.3h1v1.6h-1zM520 433.3h1v1.6h-1zM525 433.3h1v1.6h-1zM531 433.3h1v1.6h-1zM536 433.3h1v1.6h-1zM542 433.3h1v1.6h-1zM547 433.3h1v1.6h-1zM553 433.3h1v1.6h-1zM558 433.3h1v1.6h-1zM564 433.3h1v1.6h-1zM569 433.3h1v1.6h-1zM575 433.3h1v1.6h-1zM581 433.3h1v1.6h-1zM586 433.3h1v1.6h-1zM592 433.3h1v1.6h-1zM597 433.3h1v1.6h-1zM603 433.3h1v1.6h-1zM608 433.3h1v1.6h-1zM614 433.3h1v1.6h-1zM619 433.3h1v1.6h-1zM625 433.3h1v1.6h-1zM631 433.3h1v1.6h-1zM636 433.3h1v1.6h-1zM642 433.3h1v1.6h-1zM647 433.3h1v1.6h-1zM653 433.3h1v1.6h-1zM658 433.3h1v1.6h-1zM664 433.3h1v1.6h-1zM669 433.3h1v1.6h-1zM675 433.3h1v1.6h-1zM680 433.3h1v1.6h-1zM686 433.3h1v1.6h-1zM692 433.3h1v1.6h-1zM697 433.3h1v1.6h-1z" fill="#b4b4b4"/>
<path d="M492 429.2h1v1.6h-1zM497 429.2h1v1.6h-1zM503 429.2h1v1.6h-1zM508 429.2h1v1.6h-1zM514 429.2h1v1.6h-1zM520 429.2h1v1.6h-1zM525 429.2h1v1.6h-1zM531 429.2h1v1.6h-1zM536 429.2h1v1.6h-1zM542 429.2h1v1.6h-1zM547 429.2h1v1.6h-1zM553 429.2h1v1.6h-1zM558 429.2h1v1.6h-1zM564 429.2h1v1.6h-1zM569 429.2h1v1.6h-1zM575 429.2h1v1.6h-1zM581 429.2h1v1.6h-1zM586 429.2h1v1.6h-1zM592 429.2h1v1.6h-1zM597 429.2h1v1.6h-1zM603 429.2h1v1.6h-1zM608 429.2h1v1.6h-1zM614 429.2h1v1.6h-1zM619 429.2h1v1.6h-1zM625 429.2h1v1.6h-1zM631 429.2h1v1.6h-1zM636 429.2h1v1.6h-1zM642 429.2h1v1.6h-1zM647 429.2h1v1.6h-1zM653 429.2h1v1.6h-1zM658 429.2h1v1.6h-1zM664 429.2h1v1.6h-1zM669 429.2h1v1.6h-1zM675 429.2h1v1.6h-1zM680 429.2h1v1.6h-1zM686 429.2h1v1.6h-1zM692 429.2h1v1.6h-1zM697 429.2h1v1.6h-1z" fill="#b4b4b4"/>
<rect x="490.5" y="427.3" width="208.0" height="60.0" fill="none" stroke="#262626" stroke-width="2"/>
<path d="M490.5 487.00h3.4M698.5 487.00h-3.4" stroke="#262626" stroke-width="2"/>
<path d="M490.5 466.65h3.4M698.5 466.65h-3.4" stroke="#262626" stroke-width="2"/>
<path d="M490.5 446.30h3.4M698.5 446.30h-3.4" stroke="#262626" stroke-width="2"/>
<path d="M532.40 487.3v-3.4M532.40 427.3v3.4" stroke="#262626" stroke-width="2"/>
<path d="M573.40 487.3v-3.4M573.40 427.3v3.4" stroke="#262626" stroke-width="2"/>
<path d="M615.40 487.3v-3.4M615.40 427.3v3.4" stroke="#262626" stroke-width="2"/>
<path d="M657.40 487.3v-3.4M657.40 427.3v3.4" stroke="#262626" stroke-width="2"/>
<g fill="none" stroke="#0072bd" stroke-width="2.10">
<circle cx="162.60" cy="47.30" r="4.0"/>
<circle cx="164.34" cy="48.19" r="4.0"/>
<circle cx="166.08" cy="46.25" r="4.0"/>
<circle cx="167.82" cy="46.67" r="4.0"/>
<circle cx="169.56" cy="45.14" r="4.0"/>
<circle cx="171.30" cy="48.22" r="4.0"/>
<circle cx="173.04" cy="47.97" r="4.0"/>
<circle cx="174.78" cy="50.15" r="4.0"/>
<circle cx="176.52" cy="49.29" r="4.0"/>
<circle cx="178.26" cy="50.65" r="4.0"/>
<circle cx="180.00" cy="49.22" r="4.0"/>
<circle cx="181.74" cy="50.58" r="4.0"/>
<circle cx="183.48" cy="49.14" r="4.0"/>
<circle cx="185.22" cy="50.51" r="4.0"/>
<circle cx="186.96" cy="49.07" r="4.0"/>
<circle cx="188.70" cy="50.44" r="4.0"/>
<circle cx="190.44" cy="49.00" r="4.0"/>
<circle cx="192.18" cy="50.36" r="4.0"/>
<circle cx="193.92" cy="48.93" r="4.0"/>
<circle cx="195.66" cy="50.29" r="4.0"/>
<circle cx="197.40" cy="48.85" r="4.0"/>
<circle cx="199.14" cy="50.22" r="4.0"/>
<circle cx="200.88" cy="48.79" r="4.0"/>
<circle cx="202.62" cy="50.16" r="4.0"/>
<circle cx="204.36" cy="48.73" r="4.0"/>
<circle cx="206.10" cy="50.10" r="4.0"/>
<circle cx="207.84" cy="48.67" r="4.0"/>
<circle cx="209.58" cy="50.04" r="4.0"/>
<circle cx="211.32" cy="48.61" r="4.0"/>
<circle cx="213.06" cy="49.98" r="4.0"/>
<circle cx="214.80" cy="48.55" r="4.0"/>
<circle cx="216.54" cy="49.92" r="4.0"/>
<circle cx="218.28" cy="48.50" r="4.0"/>
<circle cx="220.02" cy="49.87" r="4.0"/>
<circle cx="221.76" cy="48.44" r="4.0"/>
<circle cx="223.50" cy="49.81" r="4.0"/>
<circle cx="225.24" cy="48.38" r="4.0"/>
<circle cx="226.98" cy="49.75" r="4.0"/>
<circle cx="228.72" cy="48.32" r="4.0"/>
<circle cx="230.46" cy="49.59" r="4.0"/>
<circle cx="232.20" cy="47.75" r="4.0"/>
<circle cx="233.94" cy="48.72" r="4.0"/>
<circle cx="235.68" cy="46.88" r="4.0"/>
<circle cx="237.42" cy="48.34" r="4.0"/>
<circle cx="239.16" cy="47.12" r="4.0"/>
<circle cx="240.90" cy="48.69" r="4.0"/>
<circle cx="242.64" cy="47.46" r="4.0"/>
<circle cx="244.38" cy="49.04" r="4.0"/>
<circle cx="246.12" cy="47.84" r="4.0"/>
<circle cx="247.86" cy="49.76" r="4.0"/>
<circle cx="249.60" cy="48.88" r="4.0"/>
<circle cx="251.34" cy="50.70" r="4.0"/>
<circle cx="252.20" cy="54.80" r="4.0"/>
<circle cx="253.20" cy="62.50" r="4.0"/>
<circle cx="254.40" cy="72.70" r="4.0"/>
<circle cx="256.20" cy="83.20" r="4.0"/>
<circle cx="257.30" cy="88.40" r="4.0"/>
<circle cx="258.50" cy="91.30" r="4.0"/>
<circle cx="261.40" cy="95.40" r="4.0"/>
<circle cx="264.90" cy="84.90" r="4.0"/>
<circle cx="265.40" cy="73.00" r="4.0"/>
<circle cx="266.90" cy="71.20" r="4.0"/>
<circle cx="268.40" cy="69.50" r="4.0"/>
<circle cx="269.90" cy="67.80" r="4.0"/>
<circle cx="271.40" cy="66.10" r="4.0"/>
<circle cx="272.90" cy="64.40" r="4.0"/>
<circle cx="274.40" cy="62.50" r="4.0"/>
<circle cx="275.90" cy="60.70" r="4.0"/>
<circle cx="275.60" cy="54.50" r="4.0"/>
<circle cx="276.80" cy="48.30" r="4.0"/>
<circle cx="279.18" cy="46.09" r="4.0"/>
<circle cx="280.92" cy="44.78" r="4.0"/>
<circle cx="282.66" cy="45.87" r="4.0"/>
<circle cx="284.40" cy="44.56" r="4.0"/>
<circle cx="286.14" cy="45.65" r="4.0"/>
<circle cx="287.88" cy="44.33" r="4.0"/>
<circle cx="289.62" cy="45.42" r="4.0"/>
<circle cx="291.36" cy="44.20" r="4.0"/>
<circle cx="293.10" cy="45.40" r="4.0"/>
<circle cx="294.84" cy="44.20" r="4.0"/>
<circle cx="296.58" cy="45.40" r="4.0"/>
<circle cx="298.32" cy="44.20" r="4.0"/>
<circle cx="300.06" cy="45.40" r="4.0"/>
<circle cx="301.80" cy="44.30" r="4.0"/>
<circle cx="303.54" cy="45.61" r="4.0"/>
<circle cx="305.28" cy="44.51" r="4.0"/>
<circle cx="307.02" cy="45.81" r="4.0"/>
<circle cx="308.76" cy="44.71" r="4.0"/>
<circle cx="310.50" cy="46.01" r="4.0"/>
<circle cx="312.24" cy="44.93" r="4.0"/>
<circle cx="313.98" cy="46.31" r="4.0"/>
<circle cx="315.72" cy="45.30" r="4.0"/>
<circle cx="317.46" cy="46.68" r="4.0"/>
<circle cx="319.20" cy="45.67" r="4.0"/>
<circle cx="320.50" cy="52.00" r="4.0"/>
<circle cx="322.20" cy="55.00" r="4.0"/>
<circle cx="323.90" cy="58.00" r="4.0"/>
<circle cx="325.60" cy="60.50" r="4.0"/>
<circle cx="327.30" cy="63.00" r="4.0"/>
<circle cx="329.30" cy="66.50" r="4.0"/>
<circle cx="506.00" cy="96.94" r="4.0"/>
<circle cx="507.74" cy="97.03" r="4.0"/>
<circle cx="509.48" cy="94.71" r="4.0"/>
<circle cx="511.22" cy="95.78" r="4.0"/>
<circle cx="512.96" cy="94.00" r="4.0"/>
<circle cx="514.70" cy="96.56" r="4.0"/>
<circle cx="516.44" cy="95.87" r="4.0"/>
<circle cx="518.18" cy="98.12" r="4.0"/>
<circle cx="519.92" cy="97.17" r="4.0"/>
<circle cx="521.66" cy="99.30" r="4.0"/>
<circle cx="523.40" cy="98.22" r="4.0"/>
<circle cx="525.14" cy="100.34" r="4.0"/>
<circle cx="526.88" cy="99.26" r="4.0"/>
<circle cx="528.62" cy="101.39" r="4.0"/>
<circle cx="530.36" cy="100.50" r="4.0"/>
<circle cx="532.10" cy="103.55" r="4.0"/>
<circle cx="533.84" cy="100.34" r="4.0"/>
<circle cx="535.58" cy="93.53" r="4.0"/>
<circle cx="537.32" cy="86.09" r="4.0"/>
<circle cx="539.06" cy="81.63" r="4.0"/>
<circle cx="540.80" cy="76.33" r="4.0"/>
<circle cx="542.54" cy="77.12" r="4.0"/>
<circle cx="544.28" cy="71.70" r="4.0"/>
<circle cx="546.02" cy="73.69" r="4.0"/>
<circle cx="547.76" cy="69.28" r="4.0"/>
<circle cx="549.50" cy="71.27" r="4.0"/>
<circle cx="551.24" cy="66.88" r="4.0"/>
<circle cx="552.98" cy="68.96" r="4.0"/>
<circle cx="554.72" cy="64.63" r="4.0"/>
<circle cx="556.46" cy="66.70" r="4.0"/>
<circle cx="558.20" cy="62.37" r="4.0"/>
<circle cx="559.94" cy="64.44" r="4.0"/>
<circle cx="561.68" cy="60.11" r="4.0"/>
<circle cx="563.42" cy="62.28" r="4.0"/>
<circle cx="565.16" cy="58.08" r="4.0"/>
<circle cx="566.90" cy="60.28" r="4.0"/>
<circle cx="568.64" cy="56.08" r="4.0"/>
<circle cx="570.38" cy="58.28" r="4.0"/>
<circle cx="572.12" cy="54.08" r="4.0"/>
<circle cx="573.86" cy="56.29" r="4.0"/>
<circle cx="575.60" cy="52.14" r="4.0"/>
<circle cx="577.34" cy="54.38" r="4.0"/>
<circle cx="579.08" cy="50.23" r="4.0"/>
<circle cx="580.82" cy="52.47" r="4.0"/>
<circle cx="582.56" cy="48.32" r="4.0"/>
<circle cx="584.30" cy="50.56" r="4.0"/>
<circle cx="586.04" cy="46.85" r="4.0"/>
<circle cx="587.78" cy="49.63" r="4.0"/>
<circle cx="589.52" cy="46.02" r="4.0"/>
<circle cx="591.26" cy="49.42" r="4.0"/>
<circle cx="593.00" cy="47.46" r="4.0"/>
<circle cx="594.74" cy="49.51" r="4.0"/>
<circle cx="596.48" cy="47.78" r="4.0"/>
<circle cx="598.22" cy="48.10" r="4.0"/>
<circle cx="599.96" cy="45.23" r="4.0"/>
<circle cx="601.70" cy="46.11" r="4.0"/>
<circle cx="603.44" cy="43.81" r="4.0"/>
<circle cx="605.18" cy="45.27" r="4.0"/>
<circle cx="606.92" cy="45.01" r="4.0"/>
<circle cx="608.66" cy="47.95" r="4.0"/>
<circle cx="610.40" cy="47.69" r="4.0"/>
<circle cx="612.14" cy="50.94" r="4.0"/>
<circle cx="613.88" cy="51.08" r="4.0"/>
<circle cx="615.62" cy="54.42" r="4.0"/>
<circle cx="617.36" cy="54.76" r="4.0"/>
<circle cx="619.10" cy="58.55" r="4.0"/>
<circle cx="620.84" cy="64.73" r="4.0"/>
<circle cx="622.58" cy="70.85" r="4.0"/>
<circle cx="624.32" cy="68.84" r="4.0"/>
<circle cx="626.06" cy="68.80" r="4.0"/>
<circle cx="627.80" cy="65.55" r="4.0"/>
<circle cx="629.54" cy="65.53" r="4.0"/>
<circle cx="631.28" cy="62.35" r="4.0"/>
<circle cx="633.02" cy="62.37" r="4.0"/>
<circle cx="634.76" cy="59.19" r="4.0"/>
<circle cx="636.50" cy="60.52" r="4.0"/>
<circle cx="638.24" cy="59.41" r="4.0"/>
<circle cx="639.98" cy="62.57" r="4.0"/>
<circle cx="641.72" cy="62.52" r="4.0"/>
<circle cx="643.46" cy="65.68" r="4.0"/>
<circle cx="645.20" cy="65.44" r="4.0"/>
<circle cx="646.94" cy="68.39" r="4.0"/>
<circle cx="648.68" cy="68.14" r="4.0"/>
<circle cx="650.42" cy="70.39" r="4.0"/>
<circle cx="652.16" cy="68.95" r="4.0"/>
<circle cx="653.90" cy="70.70" r="4.0"/>
<circle cx="655.64" cy="69.20" r="4.0"/>
<circle cx="657.38" cy="70.80" r="4.0"/>
<circle cx="659.12" cy="69.20" r="4.0"/>
<circle cx="660.86" cy="70.80" r="4.0"/>
<circle cx="662.60" cy="69.20" r="4.0"/>
<circle cx="664.34" cy="68.57" r="4.0"/>
<circle cx="666.08" cy="64.04" r="4.0"/>
<circle cx="667.82" cy="62.16" r="4.0"/>
<circle cx="669.56" cy="59.60" r="4.0"/>
<circle cx="671.30" cy="61.32" r="4.0"/>
<circle cx="673.04" cy="60.70" r="4.0"/>
<circle cx="162.60" cy="223.50" r="4.0"/>
<circle cx="164.34" cy="223.99" r="4.0"/>
<circle cx="166.08" cy="221.17" r="4.0"/>
<circle cx="167.82" cy="222.21" r="4.0"/>
<circle cx="169.56" cy="220.05" r="4.0"/>
<circle cx="171.30" cy="222.42" r="4.0"/>
<circle cx="173.04" cy="221.72" r="4.0"/>
<circle cx="174.78" cy="224.19" r="4.0"/>
<circle cx="176.52" cy="223.46" r="4.0"/>
<circle cx="178.26" cy="225.68" r="4.0"/>
<circle cx="180.00" cy="224.60" r="4.0"/>
<circle cx="181.74" cy="226.72" r="4.0"/>
<circle cx="183.48" cy="225.38" r="4.0"/>
<circle cx="185.22" cy="227.20" r="4.0"/>
<circle cx="186.96" cy="226.79" r="4.0"/>
<circle cx="188.70" cy="230.54" r="4.0"/>
<circle cx="190.44" cy="228.95" r="4.0"/>
<circle cx="192.18" cy="224.41" r="4.0"/>
<circle cx="193.92" cy="216.19" r="4.0"/>
<circle cx="195.66" cy="212.75" r="4.0"/>
<circle cx="197.40" cy="207.26" r="4.0"/>
<circle cx="199.14" cy="205.41" r="4.0"/>
<circle cx="200.88" cy="201.29" r="4.0"/>
<circle cx="202.62" cy="201.09" r="4.0"/>
<circle cx="204.36" cy="198.14" r="4.0"/>
<circle cx="206.10" cy="198.32" r="4.0"/>
<circle cx="207.84" cy="194.49" r="4.0"/>
<circle cx="209.58" cy="194.19" r="4.0"/>
<circle cx="211.32" cy="191.38" r="4.0"/>
<circle cx="213.06" cy="191.76" r="4.0"/>
<circle cx="214.80" cy="188.94" r="4.0"/>
<circle cx="216.54" cy="189.32" r="4.0"/>
<circle cx="218.28" cy="186.51" r="4.0"/>
<circle cx="220.02" cy="186.95" r="4.0"/>
<circle cx="221.76" cy="184.19" r="4.0"/>
<circle cx="223.50" cy="184.63" r="4.0"/>
<circle cx="225.24" cy="181.87" r="4.0"/>
<circle cx="226.98" cy="182.31" r="4.0"/>
<circle cx="228.72" cy="179.61" r="4.0"/>
<circle cx="230.46" cy="180.11" r="4.0"/>
<circle cx="232.20" cy="177.41" r="4.0"/>
<circle cx="233.94" cy="177.90" r="4.0"/>
<circle cx="235.68" cy="175.20" r="4.0"/>
<circle cx="237.42" cy="176.11" r="4.0"/>
<circle cx="239.16" cy="173.91" r="4.0"/>
<circle cx="240.90" cy="174.91" r="4.0"/>
<circle cx="242.64" cy="172.71" r="4.0"/>
<circle cx="244.38" cy="173.71" r="4.0"/>
<circle cx="246.12" cy="171.84" r="4.0"/>
<circle cx="247.86" cy="173.34" r="4.0"/>
<circle cx="249.60" cy="171.65" r="4.0"/>
<circle cx="251.34" cy="173.82" r="4.0"/>
<circle cx="251.90" cy="176.30" r="4.0"/>
<circle cx="252.60" cy="183.50" r="4.0"/>
<circle cx="254.10" cy="189.20" r="4.0"/>
<circle cx="255.70" cy="195.00" r="4.0"/>
<circle cx="257.50" cy="198.60" r="4.0"/>
<circle cx="259.20" cy="201.20" r="4.0"/>
<circle cx="260.80" cy="202.80" r="4.0"/>
<circle cx="262.60" cy="199.80" r="4.0"/>
<circle cx="264.20" cy="195.40" r="4.0"/>
<circle cx="265.60" cy="187.40" r="4.0"/>
<circle cx="267.00" cy="186.49" r="4.0"/>
<circle cx="268.74" cy="187.95" r="4.0"/>
<circle cx="270.48" cy="186.21" r="4.0"/>
<circle cx="272.22" cy="187.68" r="4.0"/>
<circle cx="273.96" cy="185.94" r="4.0"/>
<circle cx="275.70" cy="187.40" r="4.0"/>
<circle cx="277.44" cy="186.77" r="4.0"/>
<circle cx="279.18" cy="192.61" r="4.0"/>
<circle cx="280.92" cy="192.62" r="4.0"/>
<circle cx="282.66" cy="192.09" r="4.0"/>
<circle cx="284.40" cy="188.37" r="4.0"/>
<circle cx="286.14" cy="187.84" r="4.0"/>
<circle cx="287.88" cy="184.11" r="4.0"/>
<circle cx="289.62" cy="184.27" r="4.0"/>
<circle cx="291.36" cy="181.45" r="4.0"/>
<circle cx="293.10" cy="183.37" r="4.0"/>
<circle cx="294.84" cy="182.99" r="4.0"/>
<circle cx="296.58" cy="185.82" r="4.0"/>
<circle cx="298.32" cy="185.44" r="4.0"/>
<circle cx="300.06" cy="188.26" r="4.0"/>
<circle cx="301.80" cy="187.96" r="4.0"/>
<circle cx="303.54" cy="190.88" r="4.0"/>
<circle cx="305.28" cy="190.60" r="4.0"/>
<circle cx="307.02" cy="193.24" r="4.0"/>
<circle cx="308.76" cy="191.82" r="4.0"/>
<circle cx="310.50" cy="193.60" r="4.0"/>
<circle cx="312.24" cy="192.17" r="4.0"/>
<circle cx="313.98" cy="194.01" r="4.0"/>
<circle cx="315.72" cy="192.80" r="4.0"/>
<circle cx="317.46" cy="194.79" r="4.0"/>
<circle cx="319.20" cy="193.57" r="4.0"/>
<circle cx="320.94" cy="195.56" r="4.0"/>
<circle cx="322.68" cy="194.16" r="4.0"/>
<circle cx="324.42" cy="195.64" r="4.0"/>
<circle cx="326.16" cy="193.93" r="4.0"/>
<circle cx="327.90" cy="197.55" r="4.0"/>
<circle cx="329.64" cy="198.71" r="4.0"/>
<circle cx="506.00" cy="231.60" r="4.0"/>
<circle cx="507.74" cy="231.60" r="4.0"/>
<circle cx="509.48" cy="231.60" r="4.0"/>
<circle cx="511.22" cy="231.60" r="4.0"/>
<circle cx="512.96" cy="231.60" r="4.0"/>
<circle cx="514.70" cy="231.60" r="4.0"/>
<circle cx="516.44" cy="231.60" r="4.0"/>
<circle cx="518.18" cy="231.60" r="4.0"/>
<circle cx="519.92" cy="231.60" r="4.0"/>
<circle cx="521.66" cy="231.60" r="4.0"/>
<circle cx="523.40" cy="231.60" r="4.0"/>
<circle cx="525.14" cy="231.60" r="4.0"/>
<circle cx="526.88" cy="231.60" r="4.0"/>
<circle cx="528.62" cy="231.60" r="4.0"/>
<circle cx="530.36" cy="231.60" r="4.0"/>
<circle cx="532.10" cy="231.60" r="4.0"/>
<circle cx="533.84" cy="231.60" r="4.0"/>
<circle cx="535.58" cy="231.60" r="4.0"/>
<circle cx="537.32" cy="231.60" r="4.0"/>
<circle cx="539.06" cy="231.60" r="4.0"/>
<circle cx="540.80" cy="231.60" r="4.0"/>
<circle cx="542.54" cy="231.60" r="4.0"/>
<circle cx="544.28" cy="231.60" r="4.0"/>
<circle cx="546.02" cy="231.60" r="4.0"/>
<circle cx="547.76" cy="231.60" r="4.0"/>
<circle cx="549.50" cy="231.60" r="4.0"/>
<circle cx="537.10" cy="211.60" r="4.0"/>
<circle cx="551.20" cy="221.50" r="4.0"/>
<circle cx="552.60" cy="201.80" r="4.0"/>
<circle cx="555.50" cy="211.60" r="4.0"/>
<circle cx="557.24" cy="211.60" r="4.0"/>
<circle cx="558.98" cy="211.60" r="4.0"/>
<circle cx="560.72" cy="211.60" r="4.0"/>
<circle cx="562.46" cy="211.60" r="4.0"/>
<circle cx="564.20" cy="211.60" r="4.0"/>
<circle cx="565.94" cy="211.60" r="4.0"/>
<circle cx="567.68" cy="211.60" r="4.0"/>
<circle cx="569.42" cy="211.60" r="4.0"/>
<circle cx="571.16" cy="211.60" r="4.0"/>
<circle cx="571.00" cy="201.80" r="4.0"/>
<circle cx="573.00" cy="201.80" r="4.0"/>
<circle cx="575.00" cy="201.80" r="4.0"/>
<circle cx="577.30" cy="221.50" r="4.0"/>
<circle cx="579.00" cy="221.50" r="4.0"/>
<circle cx="580.40" cy="231.60" r="4.0"/>
<circle cx="582.10" cy="231.60" r="4.0"/>
<circle cx="583.80" cy="231.60" r="4.0"/>
<circle cx="585.50" cy="231.60" r="4.0"/>
<circle cx="587.60" cy="172.30" r="4.0"/>
<circle cx="589.40" cy="201.80" r="4.0"/>
<circle cx="591.20" cy="201.80" r="4.0"/>
<circle cx="592.80" cy="191.90" r="4.0"/>
<circle cx="594.90" cy="221.50" r="4.0"/>
<circle cx="596.30" cy="231.60" r="4.0"/>
<circle cx="598.80" cy="201.80" r="4.0"/>
<circle cx="601.70" cy="211.60" r="4.0"/>
<circle cx="603.44" cy="231.60" r="4.0"/>
<circle cx="605.18" cy="231.60" r="4.0"/>
<circle cx="606.92" cy="231.60" r="4.0"/>
<circle cx="608.66" cy="231.60" r="4.0"/>
<circle cx="610.40" cy="231.60" r="4.0"/>
<circle cx="612.14" cy="231.60" r="4.0"/>
<circle cx="613.88" cy="231.60" r="4.0"/>
<circle cx="615.62" cy="231.60" r="4.0"/>
<circle cx="617.36" cy="231.60" r="4.0"/>
<circle cx="619.10" cy="231.60" r="4.0"/>
<circle cx="620.84" cy="231.60" r="4.0"/>
<circle cx="622.58" cy="231.60" r="4.0"/>
<circle cx="624.32" cy="231.60" r="4.0"/>
<circle cx="626.06" cy="231.60" r="4.0"/>
<circle cx="627.80" cy="231.60" r="4.0"/>
<circle cx="629.54" cy="231.60" r="4.0"/>
<circle cx="631.28" cy="231.60" r="4.0"/>
<circle cx="633.02" cy="231.60" r="4.0"/>
<circle cx="634.76" cy="231.60" r="4.0"/>
<circle cx="636.50" cy="231.60" r="4.0"/>
<circle cx="638.24" cy="231.60" r="4.0"/>
<circle cx="639.98" cy="231.60" r="4.0"/>
<circle cx="641.72" cy="231.60" r="4.0"/>
<circle cx="643.46" cy="231.60" r="4.0"/>
<circle cx="645.20" cy="231.60" r="4.0"/>
<circle cx="646.94" cy="231.60" r="4.0"/>
<circle cx="648.68" cy="231.60" r="4.0"/>
<circle cx="650.42" cy="231.60" r="4.0"/>
<circle cx="652.16" cy="231.60" r="4.0"/>
<circle cx="653.90" cy="231.60" r="4.0"/>
<circle cx="655.64" cy="231.60" r="4.0"/>
<circle cx="657.38" cy="231.60" r="4.0"/>
<circle cx="659.12" cy="231.60" r="4.0"/>
<circle cx="660.86" cy="231.60" r="4.0"/>
<circle cx="662.60" cy="231.60" r="4.0"/>
<circle cx="664.34" cy="231.60" r="4.0"/>
<circle cx="666.08" cy="231.60" r="4.0"/>
<circle cx="667.82" cy="231.60" r="4.0"/>
<circle cx="669.56" cy="231.60" r="4.0"/>
<circle cx="671.30" cy="231.60" r="4.0"/>
<circle cx="673.04" cy="231.60" r="4.0"/>
<circle cx="161.90" cy="342.10" r="4.0"/>
<circle cx="164.30" cy="345.00" r="4.0"/>
<circle cx="166.30" cy="334.50" r="4.0"/>
<circle cx="168.50" cy="341.00" r="4.0"/>
<circle cx="170.60" cy="342.40" r="4.0"/>
<circle cx="173.50" cy="337.10" r="4.0"/>
<circle cx="174.80" cy="344.00" r="4.0"/>
<circle cx="176.40" cy="346.50" r="4.0"/>
<circle cx="178.50" cy="346.00" r="4.0"/>
<circle cx="180.50" cy="346.50" r="4.0"/>
<circle cx="182.80" cy="345.50" r="4.0"/>
<circle cx="185.00" cy="345.00" r="4.0"/>
<circle cx="187.40" cy="344.00" r="4.0"/>
<circle cx="189.50" cy="342.50" r="4.0"/>
<circle cx="190.50" cy="340.50" r="4.0"/>
<circle cx="176.00" cy="344.50" r="4.0"/>
<circle cx="179.00" cy="347.00" r="4.0"/>
<circle cx="184.00" cy="347.00" r="4.0"/>
<circle cx="188.00" cy="345.50" r="4.0"/>
<circle cx="172.00" cy="343.50" r="4.0"/>
<circle cx="168.00" cy="344.50" r="4.0"/>
<circle cx="194.80" cy="323.20" r="4.0"/>
<circle cx="198.30" cy="314.30" r="4.0"/>
<circle cx="201.80" cy="307.20" r="4.0"/>
<circle cx="192.18" cy="332.78" r="4.0"/>
<circle cx="193.92" cy="324.62" r="4.0"/>
<circle cx="195.66" cy="321.40" r="4.0"/>
<circle cx="197.40" cy="315.19" r="4.0"/>
<circle cx="199.14" cy="312.82" r="4.0"/>
<circle cx="200.88" cy="307.90" r="4.0"/>
<circle cx="202.62" cy="307.03" r="4.0"/>
<circle cx="204.36" cy="303.23" r="4.0"/>
<circle cx="206.10" cy="304.03" r="4.0"/>
<circle cx="207.84" cy="301.96" r="4.0"/>
<circle cx="209.58" cy="303.10" r="4.0"/>
<circle cx="211.32" cy="301.50" r="4.0"/>
<circle cx="213.06" cy="303.93" r="4.0"/>
<circle cx="214.80" cy="303.16" r="4.0"/>
<circle cx="216.54" cy="305.59" r="4.0"/>
<circle cx="218.28" cy="305.41" r="4.0"/>
<circle cx="220.02" cy="309.33" r="4.0"/>
<circle cx="221.76" cy="310.05" r="4.0"/>
<circle cx="223.50" cy="310.85" r="4.0"/>
<circle cx="225.24" cy="308.38" r="4.0"/>
<circle cx="226.98" cy="309.11" r="4.0"/>
<circle cx="228.72" cy="307.12" r="4.0"/>
<circle cx="230.46" cy="308.76" r="4.0"/>
<circle cx="232.20" cy="307.33" r="4.0"/>
<circle cx="233.94" cy="310.03" r="4.0"/>
<circle cx="235.68" cy="309.53" r="4.0"/>
<circle cx="237.42" cy="312.23" r="4.0"/>
<circle cx="239.16" cy="311.23" r="4.0"/>
<circle cx="240.90" cy="313.18" r="4.0"/>
<circle cx="242.64" cy="311.93" r="4.0"/>
<circle cx="244.38" cy="314.31" r="4.0"/>
<circle cx="246.12" cy="315.03" r="4.0"/>
<circle cx="247.86" cy="318.93" r="4.0"/>
<circle cx="250.20" cy="322.00" r="4.0"/>
<circle cx="251.40" cy="329.80" r="4.0"/>
<circle cx="253.10" cy="337.00" r="4.0"/>
<circle cx="254.60" cy="350.30" r="4.0"/>
<circle cx="256.56" cy="354.63" r="4.0"/>
<circle cx="258.30" cy="357.58" r="4.0"/>
<circle cx="260.04" cy="357.32" r="4.0"/>
<circle cx="261.78" cy="359.13" r="4.0"/>
<circle cx="263.52" cy="357.45" r="4.0"/>
<circle cx="265.26" cy="358.97" r="4.0"/>
<circle cx="267.00" cy="357.29" r="4.0"/>
<circle cx="268.74" cy="358.81" r="4.0"/>
<circle cx="270.48" cy="357.12" r="4.0"/>
<circle cx="272.22" cy="358.64" r="4.0"/>
<circle cx="273.96" cy="356.70" r="4.0"/>
<circle cx="275.70" cy="357.70" r="4.0"/>
<circle cx="277.44" cy="355.50" r="4.0"/>
<circle cx="279.18" cy="356.50" r="4.0"/>
<circle cx="280.92" cy="354.30" r="4.0"/>
<circle cx="282.66" cy="355.30" r="4.0"/>
<circle cx="284.40" cy="353.10" r="4.0"/>
<circle cx="286.14" cy="354.10" r="4.0"/>
<circle cx="287.88" cy="352.77" r="4.0"/>
<circle cx="289.62" cy="355.49" r="4.0"/>
<circle cx="291.36" cy="355.01" r="4.0"/>
<circle cx="293.10" cy="357.74" r="4.0"/>
<circle cx="294.84" cy="357.26" r="4.0"/>
<circle cx="296.58" cy="359.73" r="4.0"/>
<circle cx="298.32" cy="357.68" r="4.0"/>
<circle cx="300.06" cy="358.83" r="4.0"/>
<circle cx="301.80" cy="356.78" r="4.0"/>
<circle cx="303.54" cy="357.93" r="4.0"/>
<circle cx="305.28" cy="355.88" r="4.0"/>
<circle cx="307.02" cy="357.03" r="4.0"/>
<circle cx="308.76" cy="355.24" r="4.0"/>
<circle cx="310.50" cy="356.94" r="4.0"/>
<circle cx="312.24" cy="355.43" r="4.0"/>
<circle cx="313.98" cy="357.12" r="4.0"/>
<circle cx="315.72" cy="355.61" r="4.0"/>
<circle cx="317.46" cy="357.30" r="4.0"/>
<circle cx="319.20" cy="355.79" r="4.0"/>
<circle cx="320.94" cy="355.41" r="4.0"/>
<circle cx="322.68" cy="351.56" r="4.0"/>
<circle cx="324.42" cy="350.91" r="4.0"/>
<circle cx="326.16" cy="346.99" r="4.0"/>
<circle cx="327.90" cy="346.22" r="4.0"/>
<circle cx="329.64" cy="342.25" r="4.0"/>
<circle cx="506.00" cy="354.60" r="4.0"/>
<circle cx="507.74" cy="356.23" r="4.0"/>
<circle cx="509.48" cy="353.07" r="4.0"/>
<circle cx="511.22" cy="354.88" r="4.0"/>
<circle cx="512.96" cy="353.14" r="4.0"/>
<circle cx="514.70" cy="356.21" r="4.0"/>
<circle cx="516.44" cy="354.47" r="4.0"/>
<circle cx="518.18" cy="357.52" r="4.0"/>
<circle cx="519.92" cy="355.77" r="4.0"/>
<circle cx="521.66" cy="358.61" r="4.0"/>
<circle cx="523.40" cy="356.65" r="4.0"/>
<circle cx="525.14" cy="359.39" r="4.0"/>
<circle cx="526.88" cy="357.28" r="4.0"/>
<circle cx="528.62" cy="359.97" r="4.0"/>
<circle cx="530.36" cy="357.80" r="4.0"/>
<circle cx="532.10" cy="360.20" r="4.0"/>
<circle cx="533.84" cy="357.80" r="4.0"/>
<circle cx="535.58" cy="358.17" r="4.0"/>
<circle cx="537.32" cy="350.27" r="4.0"/>
<circle cx="539.06" cy="349.77" r="4.0"/>
<circle cx="540.80" cy="344.60" r="4.0"/>
<circle cx="542.54" cy="344.39" r="4.0"/>
<circle cx="544.28" cy="340.34" r="4.0"/>
<circle cx="546.02" cy="341.44" r="4.0"/>
<circle cx="547.76" cy="337.73" r="4.0"/>
<circle cx="549.50" cy="338.53" r="4.0"/>
<circle cx="551.24" cy="333.81" r="4.0"/>
<circle cx="552.98" cy="333.89" r="4.0"/>
<circle cx="554.72" cy="329.17" r="4.0"/>
<circle cx="556.46" cy="328.86" r="4.0"/>
<circle cx="558.20" cy="323.68" r="4.0"/>
<circle cx="559.94" cy="323.30" r="4.0"/>
<circle cx="561.68" cy="320.92" r="4.0"/>
<circle cx="563.42" cy="323.44" r="4.0"/>
<circle cx="565.16" cy="321.17" r="4.0"/>
<circle cx="566.90" cy="323.69" r="4.0"/>
<circle cx="568.64" cy="320.89" r="4.0"/>
<circle cx="570.38" cy="322.85" r="4.0"/>
<circle cx="572.12" cy="320.02" r="4.0"/>
<circle cx="573.86" cy="321.98" r="4.0"/>
<circle cx="575.60" cy="319.15" r="4.0"/>
<circle cx="577.34" cy="321.11" r="4.0"/>
<circle cx="579.08" cy="318.28" r="4.0"/>
<circle cx="580.82" cy="320.25" r="4.0"/>
<circle cx="582.56" cy="317.41" r="4.0"/>
<circle cx="584.30" cy="318.73" r="4.0"/>
<circle cx="586.04" cy="315.02" r="4.0"/>
<circle cx="587.78" cy="316.12" r="4.0"/>
<circle cx="589.52" cy="312.15" r="4.0"/>
<circle cx="591.26" cy="312.38" r="4.0"/>
<circle cx="592.20" cy="310.00" r="4.0"/>
<circle cx="594.20" cy="304.00" r="4.0"/>
<circle cx="596.30" cy="299.70" r="4.0"/>
<circle cx="598.20" cy="303.50" r="4.0"/>
<circle cx="599.50" cy="306.80" r="4.0"/>
<circle cx="600.30" cy="314.50" r="4.0"/>
<circle cx="600.80" cy="321.50" r="4.0"/>
<circle cx="602.80" cy="326.80" r="4.0"/>
<circle cx="605.00" cy="328.50" r="4.0"/>
<circle cx="607.00" cy="327.00" r="4.0"/>
<circle cx="608.50" cy="318.50" r="4.0"/>
<circle cx="610.20" cy="317.50" r="4.0"/>
<circle cx="612.00" cy="318.50" r="4.0"/>
<circle cx="613.70" cy="317.50" r="4.0"/>
<circle cx="615.40" cy="318.50" r="4.0"/>
<circle cx="617.20" cy="317.50" r="4.0"/>
<circle cx="618.90" cy="319.00" r="4.0"/>
<circle cx="620.20" cy="324.00" r="4.0"/>
<circle cx="621.20" cy="328.00" r="4.0"/>
<circle cx="623.00" cy="327.50" r="4.0"/>
<circle cx="624.50" cy="322.00" r="4.0"/>
<circle cx="625.50" cy="319.00" r="4.0"/>
<circle cx="627.30" cy="317.80" r="4.0"/>
<circle cx="629.54" cy="317.15" r="4.0"/>
<circle cx="631.28" cy="312.91" r="4.0"/>
<circle cx="633.02" cy="313.46" r="4.0"/>
<circle cx="634.76" cy="309.21" r="4.0"/>
<circle cx="636.50" cy="311.03" r="4.0"/>
<circle cx="638.24" cy="310.45" r="4.0"/>
<circle cx="639.98" cy="314.68" r="4.0"/>
<circle cx="641.72" cy="314.10" r="4.0"/>
<circle cx="643.46" cy="318.32" r="4.0"/>
<circle cx="645.20" cy="317.75" r="4.0"/>
<circle cx="646.94" cy="321.37" r="4.0"/>
<circle cx="648.68" cy="319.15" r="4.0"/>
<circle cx="650.42" cy="321.73" r="4.0"/>
<circle cx="652.16" cy="319.51" r="4.0"/>
<circle cx="653.90" cy="322.09" r="4.0"/>
<circle cx="655.64" cy="319.87" r="4.0"/>
<circle cx="657.38" cy="322.45" r="4.0"/>
<circle cx="659.12" cy="320.09" r="4.0"/>
<circle cx="660.86" cy="322.47" r="4.0"/>
<circle cx="662.60" cy="320.05" r="4.0"/>
<circle cx="664.34" cy="322.44" r="4.0"/>
<circle cx="666.08" cy="320.02" r="4.0"/>
<circle cx="667.82" cy="322.40" r="4.0"/>
<circle cx="668.80" cy="322.00" r="4.0"/>
<circle cx="669.80" cy="326.50" r="4.0"/>
<circle cx="671.20" cy="330.50" r="4.0"/>
<circle cx="672.60" cy="334.00" r="4.0"/>
<circle cx="162.60" cy="487.30" r="4.0"/>
<circle cx="164.34" cy="487.30" r="4.0"/>
<circle cx="166.08" cy="487.30" r="4.0"/>
<circle cx="167.82" cy="487.30" r="4.0"/>
<circle cx="169.56" cy="487.30" r="4.0"/>
<circle cx="171.30" cy="487.30" r="4.0"/>
<circle cx="173.04" cy="487.30" r="4.0"/>
<circle cx="174.78" cy="487.30" r="4.0"/>
<circle cx="176.52" cy="487.30" r="4.0"/>
<circle cx="178.26" cy="487.30" r="4.0"/>
<circle cx="180.00" cy="487.30" r="4.0"/>
<circle cx="181.74" cy="487.30" r="4.0"/>
<circle cx="183.48" cy="487.30" r="4.0"/>
<circle cx="185.22" cy="487.30" r="4.0"/>
<circle cx="186.96" cy="487.30" r="4.0"/>
<circle cx="188.70" cy="487.30" r="4.0"/>
<circle cx="190.44" cy="487.30" r="4.0"/>
<circle cx="192.18" cy="487.30" r="4.0"/>
<circle cx="193.92" cy="487.30" r="4.0"/>
<circle cx="195.66" cy="487.30" r="4.0"/>
<circle cx="197.40" cy="487.30" r="4.0"/>
<circle cx="199.14" cy="487.30" r="4.0"/>
<circle cx="200.88" cy="487.30" r="4.0"/>
<circle cx="202.62" cy="487.30" r="4.0"/>
<circle cx="204.36" cy="487.30" r="4.0"/>
<circle cx="206.10" cy="487.30" r="4.0"/>
<circle cx="207.84" cy="487.30" r="4.0"/>
<circle cx="209.58" cy="487.30" r="4.0"/>
<circle cx="211.32" cy="487.30" r="4.0"/>
<circle cx="213.06" cy="487.30" r="4.0"/>
<circle cx="214.80" cy="487.30" r="4.0"/>
<circle cx="216.54" cy="487.30" r="4.0"/>
<circle cx="218.28" cy="487.30" r="4.0"/>
<circle cx="220.02" cy="487.30" r="4.0"/>
<circle cx="221.76" cy="487.30" r="4.0"/>
<circle cx="223.50" cy="487.30" r="4.0"/>
<circle cx="225.24" cy="487.30" r="4.0"/>
<circle cx="226.98" cy="487.30" r="4.0"/>
<circle cx="228.72" cy="487.30" r="4.0"/>
<circle cx="230.46" cy="487.30" r="4.0"/>
<circle cx="232.20" cy="487.30" r="4.0"/>
<circle cx="233.94" cy="487.30" r="4.0"/>
<circle cx="235.68" cy="487.30" r="4.0"/>
<circle cx="237.42" cy="487.30" r="4.0"/>
<circle cx="239.16" cy="487.30" r="4.0"/>
<circle cx="240.90" cy="487.30" r="4.0"/>
<circle cx="242.64" cy="487.30" r="4.0"/>
<circle cx="244.38" cy="487.30" r="4.0"/>
<circle cx="246.12" cy="487.30" r="4.0"/>
<circle cx="247.86" cy="487.30" r="4.0"/>
<circle cx="249.60" cy="487.30" r="4.0"/>
<circle cx="251.34" cy="487.30" r="4.0"/>
<circle cx="254.50" cy="478.50" r="4.0"/>
<circle cx="256.10" cy="458.60" r="4.0"/>
<circle cx="258.30" cy="444.70" r="4.0"/>
<circle cx="259.80" cy="430.30" r="4.0"/>
<circle cx="261.90" cy="427.20" r="4.0"/>
<circle cx="264.00" cy="432.90" r="4.0"/>
<circle cx="265.50" cy="447.30" r="4.0"/>
<circle cx="267.70" cy="457.30" r="4.0"/>
<circle cx="269.60" cy="463.10" r="4.0"/>
<circle cx="272.20" cy="468.30" r="4.0"/>
<circle cx="274.70" cy="475.30" r="4.0"/>
<circle cx="277.30" cy="481.80" r="4.0"/>
<circle cx="279.18" cy="487.30" r="4.0"/>
<circle cx="280.92" cy="487.30" r="4.0"/>
<circle cx="282.66" cy="487.30" r="4.0"/>
<circle cx="284.40" cy="487.30" r="4.0"/>
<circle cx="286.14" cy="487.30" r="4.0"/>
<circle cx="287.88" cy="487.30" r="4.0"/>
<circle cx="289.62" cy="487.30" r="4.0"/>
<circle cx="291.36" cy="487.30" r="4.0"/>
<circle cx="293.10" cy="487.30" r="4.0"/>
<circle cx="294.84" cy="487.30" r="4.0"/>
<circle cx="296.58" cy="487.30" r="4.0"/>
<circle cx="298.32" cy="487.30" r="4.0"/>
<circle cx="300.06" cy="487.30" r="4.0"/>
<circle cx="301.80" cy="487.30" r="4.0"/>
<circle cx="303.54" cy="487.30" r="4.0"/>
<circle cx="305.28" cy="487.30" r="4.0"/>
<circle cx="307.02" cy="487.30" r="4.0"/>
<circle cx="308.76" cy="487.30" r="4.0"/>
<circle cx="310.50" cy="487.30" r="4.0"/>
<circle cx="312.24" cy="487.30" r="4.0"/>
<circle cx="313.98" cy="487.30" r="4.0"/>
<circle cx="315.72" cy="487.30" r="4.0"/>
<circle cx="317.46" cy="487.30" r="4.0"/>
<circle cx="319.20" cy="487.30" r="4.0"/>
<circle cx="320.80" cy="481.60" r="4.0"/>
<circle cx="322.30" cy="476.60" r="4.0"/>
<circle cx="323.50" cy="473.10" r="4.0"/>
<circle cx="325.40" cy="468.50" r="4.0"/>
<circle cx="327.70" cy="463.90" r="4.0"/>
<circle cx="329.70" cy="458.90" r="4.0"/>
<circle cx="506.00" cy="486.50" r="4.0"/>
<circle cx="507.74" cy="487.50" r="4.0"/>
<circle cx="509.48" cy="486.50" r="4.0"/>
<circle cx="511.22" cy="487.50" r="4.0"/>
<circle cx="512.96" cy="486.50" r="4.0"/>
<circle cx="514.70" cy="487.50" r="4.0"/>
<circle cx="516.44" cy="486.50" r="4.0"/>
<circle cx="518.18" cy="487.50" r="4.0"/>
<circle cx="519.92" cy="486.50" r="4.0"/>
<circle cx="521.66" cy="487.50" r="4.0"/>
<circle cx="523.40" cy="486.50" r="4.0"/>
<circle cx="525.14" cy="487.50" r="4.0"/>
<circle cx="526.88" cy="486.50" r="4.0"/>
<circle cx="528.62" cy="487.50" r="4.0"/>
<circle cx="530.36" cy="486.50" r="4.0"/>
<circle cx="532.10" cy="487.50" r="4.0"/>
<circle cx="533.84" cy="486.50" r="4.0"/>
<circle cx="535.58" cy="487.50" r="4.0"/>
<circle cx="537.32" cy="486.50" r="4.0"/>
<circle cx="539.06" cy="487.50" r="4.0"/>
<circle cx="540.80" cy="486.50" r="4.0"/>
<circle cx="542.54" cy="487.50" r="4.0"/>
<circle cx="544.28" cy="486.50" r="4.0"/>
<circle cx="546.02" cy="487.50" r="4.0"/>
<circle cx="547.76" cy="486.50" r="4.0"/>
<circle cx="549.50" cy="486.67" r="4.0"/>
<circle cx="551.24" cy="482.77" r="4.0"/>
<circle cx="552.98" cy="481.10" r="4.0"/>
<circle cx="554.72" cy="477.61" r="4.0"/>
<circle cx="556.46" cy="477.15" r="4.0"/>
<circle cx="558.20" cy="475.51" r="4.0"/>
<circle cx="559.94" cy="476.93" r="4.0"/>
<circle cx="561.68" cy="476.74" r="4.0"/>
<circle cx="563.42" cy="480.06" r="4.0"/>
<circle cx="565.16" cy="481.35" r="4.0"/>
<circle cx="566.90" cy="484.59" r="4.0"/>
<circle cx="568.64" cy="485.38" r="4.0"/>
<circle cx="570.38" cy="487.43" r="4.0"/>
<circle cx="572.12" cy="486.50" r="4.0"/>
<circle cx="573.86" cy="487.50" r="4.0"/>
<circle cx="575.60" cy="486.50" r="4.0"/>
<circle cx="577.34" cy="487.50" r="4.0"/>
<circle cx="579.08" cy="486.50" r="4.0"/>
<circle cx="580.82" cy="487.50" r="4.0"/>
<circle cx="582.56" cy="486.50" r="4.0"/>
<circle cx="584.30" cy="487.50" r="4.0"/>
<circle cx="586.80" cy="482.50" r="4.0"/>
<circle cx="589.00" cy="478.00" r="4.0"/>
<circle cx="591.50" cy="473.50" r="4.0"/>
<circle cx="593.50" cy="470.00" r="4.0"/>
<circle cx="596.00" cy="466.00" r="4.0"/>
<circle cx="598.00" cy="462.00" r="4.0"/>
<circle cx="599.70" cy="459.00" r="4.0"/>
<circle cx="602.00" cy="461.00" r="4.0"/>
<circle cx="604.50" cy="463.00" r="4.0"/>
<circle cx="606.30" cy="465.00" r="4.0"/>
<circle cx="607.00" cy="471.00" r="4.0"/>
<circle cx="608.40" cy="479.00" r="4.0"/>
<circle cx="610.40" cy="487.00" r="4.0"/>
<circle cx="612.14" cy="487.00" r="4.0"/>
<circle cx="613.88" cy="487.00" r="4.0"/>
<circle cx="615.62" cy="487.00" r="4.0"/>
<circle cx="617.36" cy="487.00" r="4.0"/>
<circle cx="619.10" cy="487.00" r="4.0"/>
<circle cx="620.84" cy="487.00" r="4.0"/>
<circle cx="622.58" cy="487.00" r="4.0"/>
<circle cx="624.32" cy="487.00" r="4.0"/>
<circle cx="626.06" cy="487.00" r="4.0"/>
<circle cx="627.40" cy="478.00" r="4.0"/>
<circle cx="629.20" cy="468.10" r="4.0"/>
<circle cx="630.80" cy="459.40" r="4.0"/>
<circle cx="632.90" cy="448.90" r="4.0"/>
<circle cx="634.20" cy="437.80" r="4.0"/>
<circle cx="636.00" cy="426.70" r="4.0"/>
<circle cx="637.90" cy="430.40" r="4.0"/>
<circle cx="639.10" cy="433.50" r="4.0"/>
<circle cx="640.30" cy="436.50" r="4.0"/>
<circle cx="641.60" cy="440.90" r="4.0"/>
<circle cx="643.30" cy="449.90" r="4.0"/>
<circle cx="645.20" cy="458.90" r="4.0"/>
<circle cx="647.10" cy="465.90" r="4.0"/>
<circle cx="648.50" cy="473.00" r="4.0"/>
<circle cx="649.90" cy="480.10" r="4.0"/>
<circle cx="652.16" cy="487.00" r="4.0"/>
<circle cx="653.90" cy="487.00" r="4.0"/>
<circle cx="655.64" cy="487.00" r="4.0"/>
<circle cx="657.38" cy="487.00" r="4.0"/>
<circle cx="659.12" cy="487.00" r="4.0"/>
<circle cx="660.86" cy="487.00" r="4.0"/>
<circle cx="662.60" cy="487.00" r="4.0"/>
<circle cx="664.34" cy="487.00" r="4.0"/>
<circle cx="666.08" cy="487.00" r="4.0"/>
<circle cx="667.82" cy="487.00" r="4.0"/>
<circle cx="669.20" cy="479.60" r="4.0"/>
<circle cx="670.70" cy="472.50" r="4.0"/>
<circle cx="672.50" cy="465.90" r="4.0"/>
</g>
<g style="will-change:transform">
<text id="title" transform="matrix(1.1043,0,0,1.0723,186.23,31.94)" font-size="20.0" font-weight="bold" style="fill:#000">Figure 1 low</text>
<text id="t0_800" transform="matrix(0.9678,0,0,0.9704,106.45,110.81)" font-size="20.0">800</text>
<text id="t0_900" transform="matrix(0.9861,0,0,0.9704,105.85,82.54)" font-size="20.0">900</text>
<text id="t0_1000" transform="matrix(0.9739,0,0,0.9704,95.54,53.37)" font-size="20.0">1000</text>
<text id="t1_250" transform="matrix(0.9861,0,0,0.9704,448.85,110.54)" font-size="20.0">250</text>
<text id="t1_260" transform="matrix(0.9861,0,0,0.9704,448.85,85.81)" font-size="20.0">260</text>
<text id="t1_270" transform="matrix(0.9861,0,0,0.9704,448.85,61.98)" font-size="20.0">270</text>
<text id="t2_250" transform="matrix(0.9861,0,0,0.9704,105.85,234.81)" font-size="20.0">250</text>
<text id="t2_260" transform="matrix(0.9861,0,0,0.9704,105.85,210.03)" font-size="20.0">260</text>
<text id="t2_270" transform="matrix(0.9861,0,0,0.9704,105.85,186.15)" font-size="20.0">270</text>
<text id="t3_0" transform="matrix(0.9873,0,0,0.9704,470.73,238.54)" font-size="20.0">0</text>
<text id="t3_0.5" transform="matrix(0.9665,0,0,0.9704,454.90,188.98)" font-size="20.0">0.5</text>
<text id="t4_0" transform="matrix(0.9873,0,0,0.9704,127.73,366.54)" font-size="20.0">0</text>
<text id="t4_1000" transform="matrix(0.9739,0,0,0.9704,95.54,335.81)" font-size="20.0">1000</text>
<text id="t4_2000" transform="matrix(0.9754,0,0,0.9704,95.47,305.98)" font-size="20.0">2000</text>
<text id="t5_1" transform="matrix(1.0112,0,0,0.9986,470.69,352.83)" font-size="20.0">1</text>
<text id="t5_1.5" transform="matrix(0.9865,0,0,0.9843,454.36,337.66)" font-size="20.0">1.5</text>
<text id="t5_2" transform="matrix(1.0158,0,0,0.9843,470.64,321.98)" font-size="20.0">2</text>
<text id="t5_2.5" transform="matrix(0.9887,0,0,0.9704,454.31,306.81)" font-size="20.0">2.5</text>
<text id="t6_0" transform="matrix(0.9873,0,0,0.9704,127.73,494.54)" font-size="20.0">0</text>
<text id="t6_500" transform="matrix(0.9678,0,0,0.9704,106.45,446.37)" font-size="20.0">500</text>
<text id="t7_0" transform="matrix(0.9873,0,0,0.9704,470.73,494.15)" font-size="20.0">0</text>
<text id="t7_50" transform="matrix(0.9645,0,0,0.9704,460.36,473.39)" font-size="20.0">50</text>
<text id="t7_100" transform="matrix(0.9842,0,0,0.9704,448.91,453.54)" font-size="20.0">100</text>
<text id="yl0" transform="matrix(0,-0.9253,1.1472,0,83.99,125.65)" font-size="20.0">PRESSURE</text>
<text id="yl1" transform="matrix(0,-1.0274,1.0500,0,438.39,107.36)" font-size="20.0">THETA</text>
<text id="yl3a" transform="matrix(0,-1.0180,1.0870,0,86.00,245.95)" font-size="20.0">AIR</text>
<text id="yl3b" transform="matrix(0,-0.7895,0.8696,0,96.17,210.93)" font-size="20.0">T</text>
<text id="yl3c" transform="matrix(0,-1.0182,1.0870,0,86.00,200.80)" font-size="20.0">EMP</text>
<text id="yl4" transform="matrix(0,-1.0364,1.0906,0,445.05,251.61)" font-size="20.0">RAINFALL</text>
<text id="yl5" transform="matrix(0,-1.0141,1.0500,0,84.39,380.84)" font-size="20.0">MIXDEPTH</text>
<text id="yl6" transform="matrix(0,-1.0577,1.1113,0,445.73,385.25)" font-size="20.0">H2OMIXRA</text>
<text id="yl7a" transform="matrix(0,-0.9604,1.0587,0,85.44,502.55)" font-size="20.0">TERR</text>
<text id="yl7b" transform="matrix(0,-0.9664,0.8696,0,96.17,451.11)" font-size="20.0">M</text>
<text id="yl7c" transform="matrix(0,-0.9018,1.1197,0,85.78,434.07)" font-size="20.0">SL</text>
<text id="yl8a" transform="matrix(0,-1.0058,1.0683,0,399.52,504.01)" font-size="20.0">SUN</text>
<text id="yl8b" transform="matrix(0,-0.6347,0.8167,0,408.17,458.02)" font-size="20.0">F</text>
<text id="yl8c" transform="matrix(0,-1.0345,1.0714,0,398.79,449.83)" font-size="20.0">LUX</text>
<text id="xl0" transform="matrix(1.1637,0,0,1.0628,225.36,575.96)" font-size="20.0">Time</text>
<text id="xl1" transform="matrix(1.1401,0,0,1.0764,569.37,576.15)" font-size="20.0">Time</text>
<text id="xt0_0" transform="translate(125.00,546.10) rotate(-45)" font-size="20.4">02/12</text>
<text id="xt0_1" transform="translate(166.70,546.10) rotate(-45)" font-size="20.4">02/13</text>
<text id="xt0_2" transform="translate(208.40,546.10) rotate(-45)" font-size="20.4">02/14</text>
<text id="xt0_3" transform="translate(250.10,546.10) rotate(-45)" font-size="20.4">02/15</text>
<text id="xt0_4" transform="translate(291.80,546.10) rotate(-45)" font-size="20.4">02/16</text>
<text id="xt0_5" transform="translate(333.50,546.10) rotate(-45)" font-size="20.4">02/17</text>
<text id="xt1_0" transform="translate(468.20,546.10) rotate(-45)" font-size="20.4">02/12</text>
<text id="xt1_1" transform="translate(509.90,546.10) rotate(-45)" font-size="20.4">02/13</text>
<text id="xt1_2" transform="translate(551.60,546.10) rotate(-45)" font-size="20.4">02/14</text>
<text id="xt1_3" transform="translate(593.30,546.10) rotate(-45)" font-size="20.4">02/15</text>
<text id="xt1_4" transform="translate(635.00,546.10) rotate(-45)" font-size="20.4">02/16</text>
<text id="xt1_5" transform="translate(676.70,546.10) rotate(-45)" font-size="20.4">02/17</text>
</g>
</svg>
</body></html>
